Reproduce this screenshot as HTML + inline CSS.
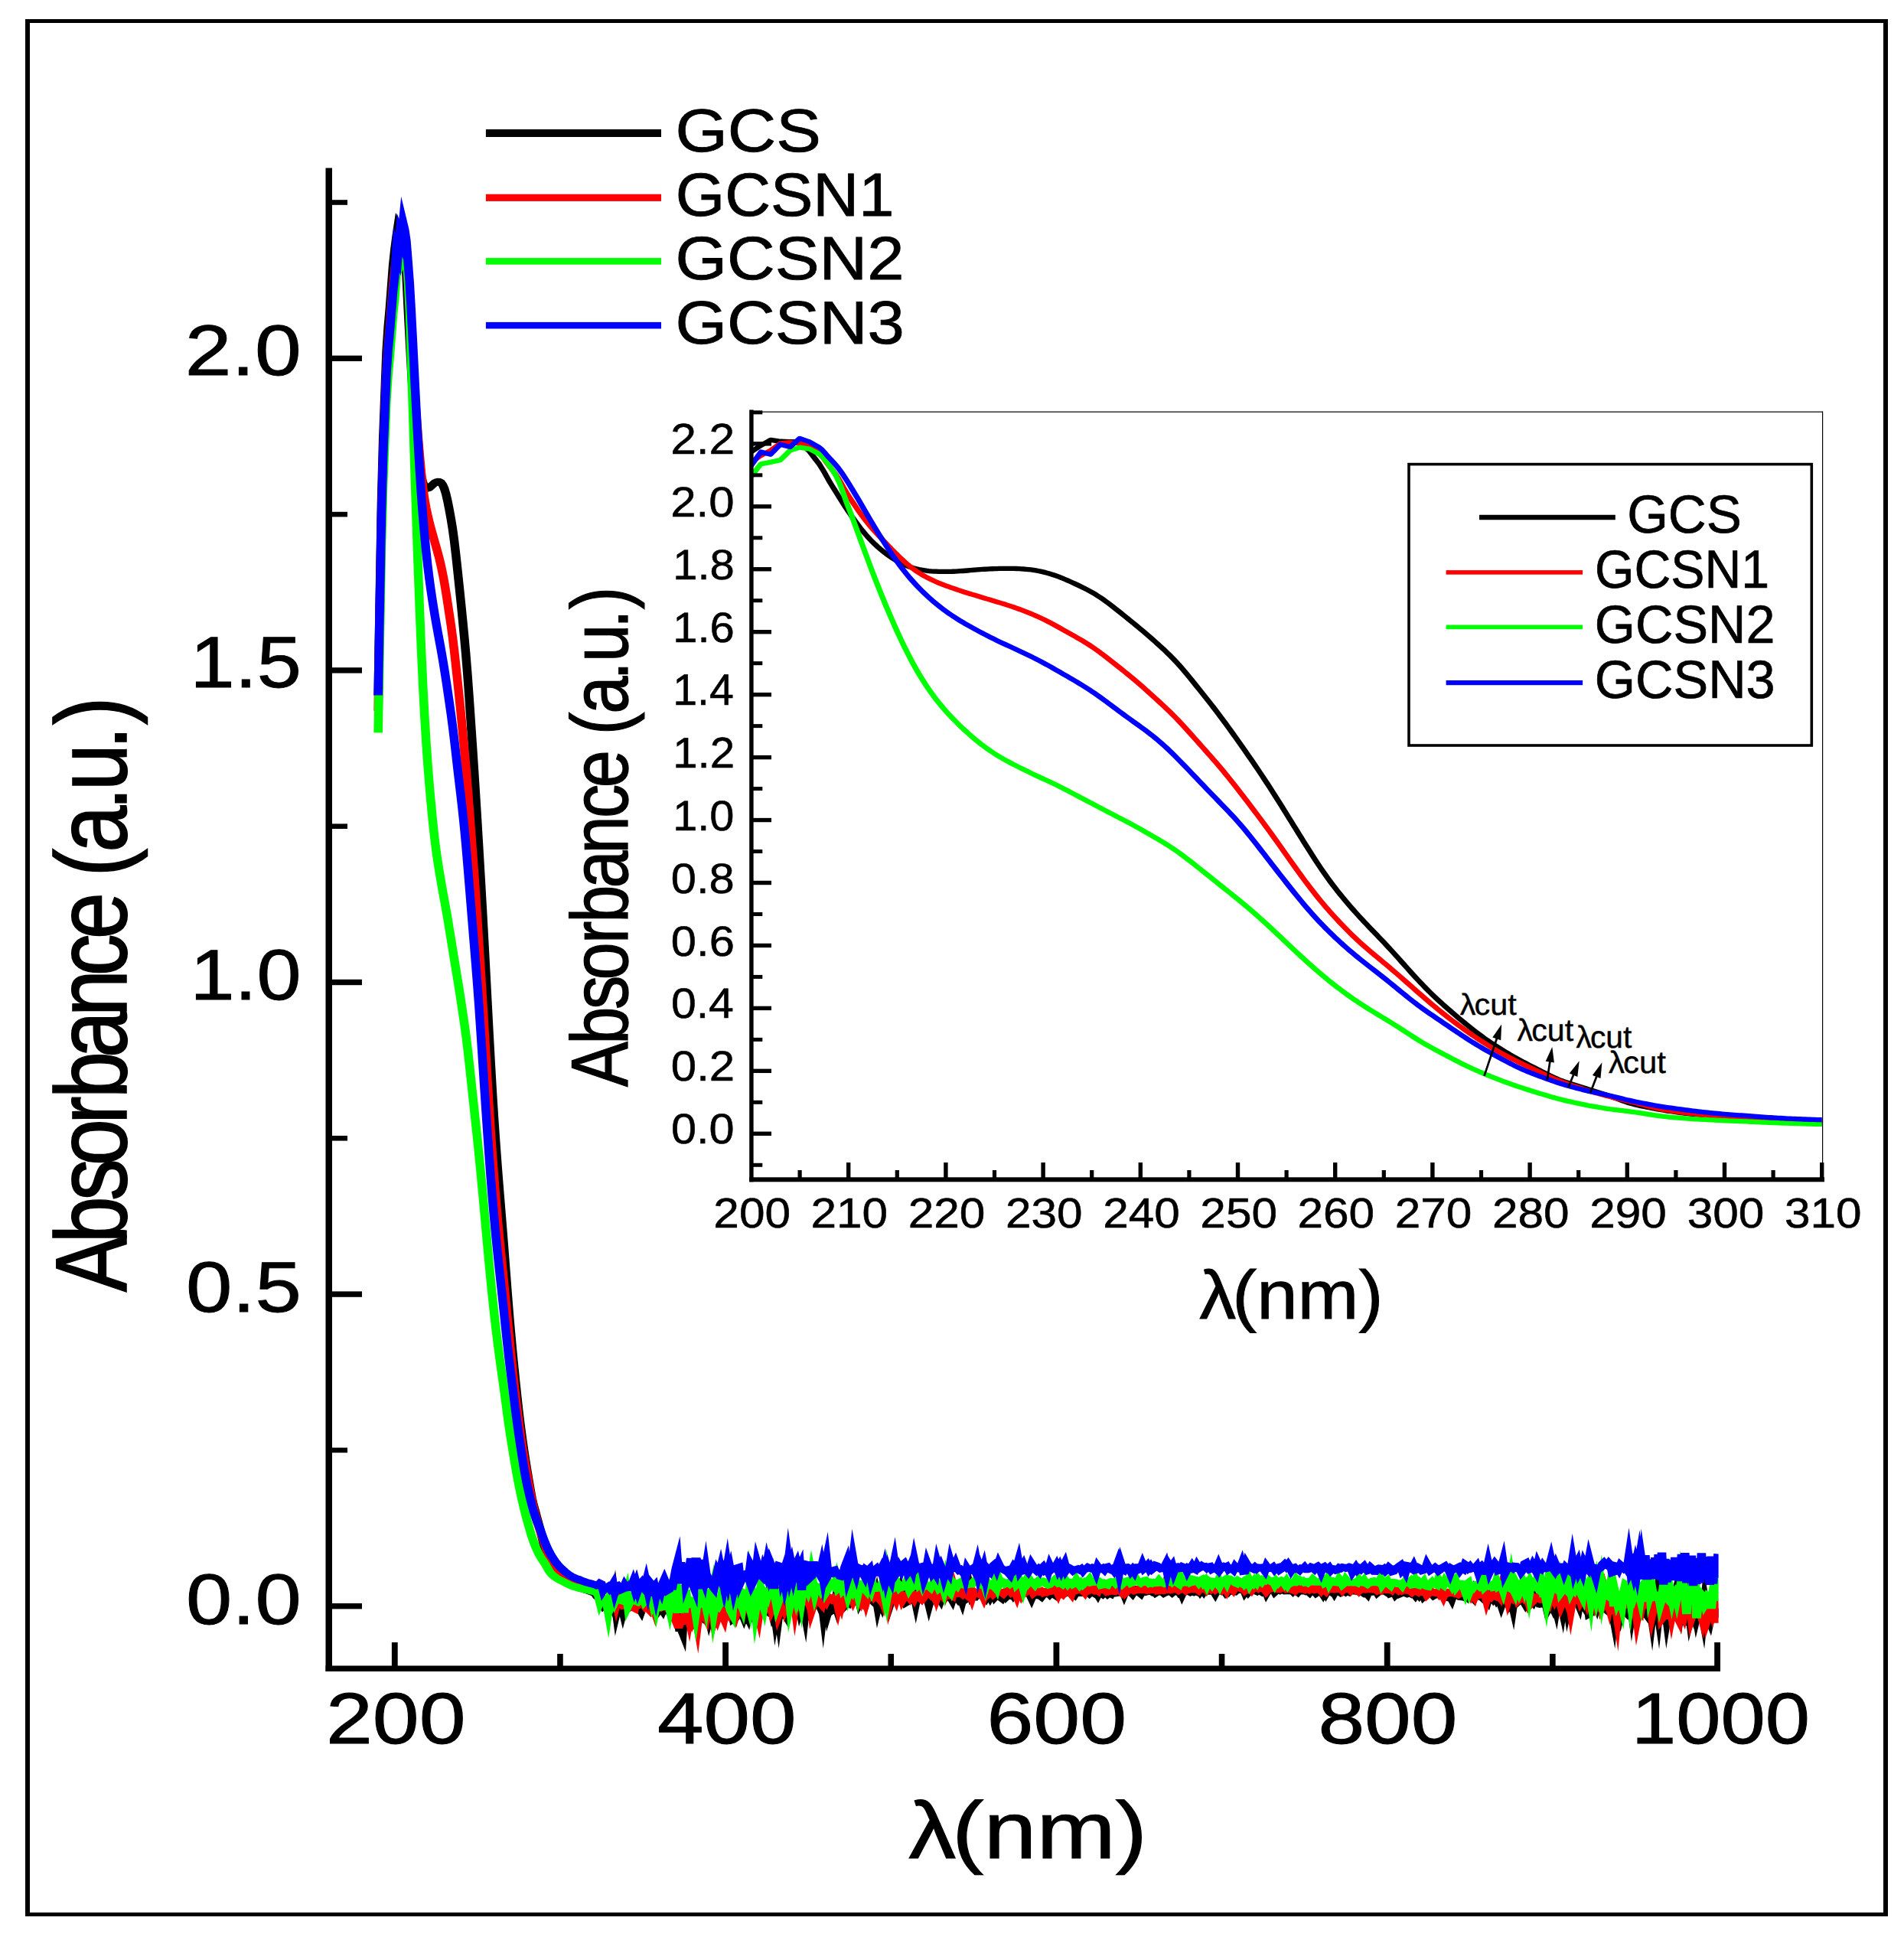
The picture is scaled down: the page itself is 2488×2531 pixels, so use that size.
<!DOCTYPE html>
<html lang="en"><head><meta charset="utf-8"><title>UV-Vis absorbance</title>
<style>html,body{margin:0;padding:0;background:#fff}svg{display:block}</style></head>
<body>
<svg width="2488" height="2531" viewBox="0 0 2488 2531" style="display:block;font-kerning:none" text-rendering="geometricPrecision">
<rect width="2488" height="2531" fill="#fff"/>
<rect x="33.00" y="25.00" width="2434.00" height="5.00" fill="#000"/>
<rect x="33.00" y="2499.00" width="2434.00" height="5.00" fill="#000"/>
<rect x="33.00" y="25.00" width="6.00" height="2479.00" fill="#000"/>
<rect x="2461.00" y="25.00" width="6.00" height="2479.00" fill="#000"/>
<clipPath id="mainclip"><rect x="0" y="0" width="1871.33" height="2531"/></clipPath>
<g id="main-curves" clip-path="url(#mainclip)" fill="none" stroke-linejoin="miter" stroke-miterlimit="14" stroke-linecap="butt" transform="scale(1.200,1)">
<path d="M411.82 908.51 L413.62 778.15 L415.42 655.94 L417.22 574.46 L419.03 517.43 L420.83 460.40 L422.63 427.81 L424.43 403.37 L426.23 374.85 L428.03 346.34 L429.83 326.55 L431.63 309.66 L433.44 295.20 L435.24 299.11 L437.04 299.90 L438.84 300.42 L440.64 325.34 L442.44 358.02 L444.24 401.07 L446.04 442.15 L447.85 481.39 L449.65 517.02 L451.45 547.89 L453.25 573.07 L455.05 593.60 L456.85 610.21 L458.65 622.52 L460.45 630.52 L462.26 635.10 L464.06 637.25 L465.86 637.75 L467.66 637.03 L469.46 635.32 L471.26 633.18 L473.06 631.31 L474.86 630.13 L476.67 629.61 L478.47 629.73 L480.27 630.86 L482.07 633.66 L483.87 638.53 L485.67 645.67 L487.47 655.07 L489.27 666.03 L491.08 677.91 L492.88 691.25 L494.68 707.10 L496.48 725.52 L498.28 745.53 L500.08 765.99 L501.88 786.83 L503.68 808.50 L505.49 830.99 L507.29 854.89 L509.09 881.58 L510.89 911.37 L512.69 942.81 L514.49 974.58 L516.29 1007.22 L518.09 1041.46 L519.90 1076.84 L521.70 1112.83 L523.50 1149.65 L525.30 1187.74 L527.10 1227.16 L528.90 1267.56 L530.70 1308.38 L532.50 1349.09 L534.31 1388.79 L536.11 1426.05 L537.91 1460.17 L539.71 1491.56 L541.51 1520.84 L543.31 1548.40 L545.11 1574.90 L546.91 1601.43 L548.72 1628.80 L550.52 1656.98 L552.32 1685.21 L554.12 1712.34 L555.92 1737.62 L557.72 1761.13 L559.52 1783.36 L561.32 1804.72 L563.13 1825.20 L564.93 1844.46 L566.73 1862.22 L568.53 1878.53 L570.33 1893.68 L572.13 1907.90 L573.93 1921.23 L575.73 1934.03 L577.54 1946.76 L579.34 1958.35 L581.14 1967.34 L582.94 1975.03 L584.74 1983.21 L586.54 1990.97 L588.34 1999.20 L590.14 2008.48 L591.95 2017.47 L593.75 2024.52 L595.55 2029.73 L597.35 2034.65 L599.15 2038.97 L600.95 2042.77 L602.75 2046.06 L604.55 2048.92 L606.36 2051.40 L608.16 2053.57 L609.96 2055.52 L611.76 2057.33 L613.56 2059.04 L615.36 2061.15 L617.16 2063.20 L618.96 2065.22 L620.77 2067.18 L622.57 2069.06 L624.37 2070.84 L626.17 2072.42 L627.97 2073.67 L629.77 2074.31 L631.57 2074.95" stroke="#000000" stroke-width="9.6" stroke-miterlimit="14"/>
<path d="M629.77 2074.31 L631.57 2074.95 L633.37 2075.59 L635.18 2076.23 L636.98 2076.87 L638.78 2077.50 L640.58 2078.32 L642.38 2079.14 L644.18 2079.95 L645.98 2080.77 L647.78 2081.58 L649.59 2085.29 L651.39 2087.19 L653.19 2085.92 L654.99 2094.40 L656.79 2097.92 L658.59 2095.81 L660.39 2092.62 L662.19 2094.02 L664.00 2097.26 L665.80 2097.50 L667.60 2101.73 L669.40 2089.26 L671.20 2105.73 L673.00 2096.49 L674.80 2097.21 L676.60 2095.97 L678.41 2105.10 L680.21 2096.92 L682.01 2096.92 L683.81 2101.53 L685.61 2099.95 L687.41 2099.03 L689.21 2097.01 L691.01 2097.04 L692.82 2098.78 L694.62 2100.01 L696.42 2101.35 L698.22 2105.02 L700.02 2098.99 L701.82 2099.05 L703.62 2100.64 L705.42 2100.63 L707.23 2101.40 L709.03 2096.93 L710.83 2102.22 L712.63 2102.19 L714.43 2102.42 L716.23 2105.54 L718.03 2102.58 L719.83 2100.96 L721.64 2104.19 L723.44 2099.25 L725.24 2098.20 L727.04 2101.70 L728.84 2105.38 L730.64 2102.21 L732.44 2101.26 L734.24 2110.70 L736.05 2109.52 L737.85 2113.08 L739.65 2127.23 L741.45 2127.23 L743.25 2132.73 L745.05 2099.42 L746.85 2114.89 L748.65 2116.45 L750.46 2108.73 L752.26 2106.50 L754.06 2121.12 L755.86 2122.67 L757.66 2105.20 L759.46 2102.40 L761.26 2105.50 L763.06 2113.85 L764.87 2114.80 L766.67 2115.96 L768.47 2108.73 L770.27 2106.30 L772.07 2115.18 L773.87 2107.27 L775.67 2095.71 L777.47 2104.29 L779.28 2117.26 L781.08 2115.06 L782.88 2104.02 L784.68 2095.94 L786.48 2106.10 L788.28 2110.71 L790.08 2112.24 L791.88 2110.20 L793.69 2107.01 L795.49 2101.53 L797.29 2090.75 L799.09 2115.01 L800.89 2113.60 L802.69 2108.60 L804.49 2099.67 L806.29 2098.59 L808.10 2107.39 L809.90 2112.60 L811.70 2106.43 L813.50 2110.86 L815.30 2095.56 L817.10 2102.47 L818.90 2102.02 L820.70 2114.50 L822.51 2116.72 L824.31 2087.13 L826.11 2101.17 L827.91 2108.33 L829.71 2106.49 L831.51 2100.86 L833.31 2097.57 L835.11 2105.06 L836.92 2106.51 L838.72 2093.49 L840.52 2103.13 L842.32 2095.23 L844.12 2111.35 L845.92 2097.99 L847.72 2112.43 L849.52 2095.96 L851.33 2102.09 L853.13 2105.28 L854.93 2108.91 L856.73 2078.74 L858.53 2097.48 L860.33 2102.82 L862.13 2099.45 L863.93 2091.65 L865.74 2094.84 L867.54 2088.00 L869.34 2090.10 L871.14 2101.62 L872.94 2094.61 L874.74 2095.92 L876.54 2107.52 L878.34 2088.14 L880.15 2093.75 L881.95 2101.63 L883.75 2095.28 L885.55 2087.84 L887.35 2092.34 L889.15 2092.26 L890.95 2092.92 L892.75 2097.88 L894.56 2088.63 L896.36 2106.19 L898.16 2088.13 L899.96 2089.84 L901.76 2105.23 L903.56 2097.98 L905.36 2104.59 L907.16 2103.00 L908.97 2094.01 L910.77 2100.46 L912.57 2090.55 L914.37 2088.05 L916.17 2091.62 L917.97 2089.75 L919.77 2098.38 L921.57 2096.20 L923.38 2091.96 L925.18 2094.02 L926.98 2090.94 L928.78 2090.29 L930.58 2089.21 L932.38 2084.16 L934.18 2084.54 L935.98 2093.31 L937.79 2088.91 L939.59 2087.89 L941.39 2089.48 L943.19 2091.73 L944.99 2089.64 L946.79 2087.40 L948.59 2090.47 L950.39 2091.66 L952.20 2093.74 L954.00 2085.91 L955.80 2098.86 L957.60 2089.90 L959.40 2094.96 L961.20 2083.71 L963.00 2090.32 L964.80 2090.32 L966.61 2089.80 L968.41 2098.49 L970.21 2091.93 L972.01 2089.29 L973.81 2086.86 L975.61 2082.86 L977.41 2089.42 L979.21 2087.80 L981.02 2079.40 L982.82 2087.17 L984.62 2087.83 L986.42 2093.91 L988.22 2092.60 L990.02 2087.90 L991.82 2087.33 L993.62 2089.45 L995.43 2083.23 L997.23 2093.49 L999.03 2083.01 L1000.83 2088.93 L1002.63 2086.54 L1004.43 2083.30 L1006.23 2089.68 L1008.03 2089.86 L1009.84 2087.53 L1011.64 2096.25 L1013.44 2088.46 L1015.24 2085.71 L1017.04 2088.20 L1018.84 2086.92 L1020.64 2085.26 L1022.44 2086.83 L1024.25 2090.33 L1026.05 2084.18 L1027.85 2083.13 L1029.65 2086.87 L1031.45 2084.59 L1033.25 2084.17 L1035.05 2086.37 L1036.85 2090.14 L1038.66 2083.42 L1040.46 2084.70 L1042.26 2087.50 L1044.06 2082.28 L1045.86 2086.30 L1047.66 2092.10 L1049.46 2083.88 L1051.26 2085.21 L1053.07 2088.67 L1054.87 2087.29 L1056.67 2078.33 L1058.47 2087.62 L1060.27 2085.89 L1062.07 2086.27 L1063.87 2083.29 L1065.67 2084.14 L1067.48 2083.09 L1069.28 2084.44 L1071.08 2086.43 L1072.88 2081.73 L1074.68 2086.22 L1076.48 2082.70 L1078.28 2086.75 L1080.08 2082.92 L1081.89 2080.68 L1083.69 2086.44 L1085.49 2084.14 L1087.29 2083.27 L1089.09 2086.84 L1090.89 2088.39 L1092.69 2084.33 L1094.49 2081.41 L1096.30 2085.96 L1098.10 2083.93 L1099.90 2084.67 L1101.70 2081.18 L1103.50 2084.49 L1105.30 2081.60 L1107.10 2081.99 L1108.90 2083.76 L1110.71 2080.58 L1112.51 2082.06 L1114.31 2081.45 L1116.11 2080.82 L1117.91 2079.65 L1119.71 2081.64 L1121.51 2083.20 L1123.31 2087.81 L1125.12 2082.76 L1126.92 2084.01 L1128.72 2084.36 L1130.52 2084.63 L1132.32 2084.69 L1134.12 2086.38 L1135.92 2083.64 L1137.72 2082.81 L1139.53 2082.22 L1141.33 2081.29 L1143.13 2083.43 L1144.93 2081.24 L1146.73 2081.31 L1148.53 2083.97 L1150.33 2085.36 L1152.13 2080.48 L1153.94 2083.54 L1155.74 2082.19 L1157.54 2080.96 L1159.34 2081.86 L1161.14 2080.42 L1162.94 2079.31 L1164.74 2080.97 L1166.54 2080.82 L1168.35 2082.00 L1170.15 2083.75 L1171.95 2080.40 L1173.75 2078.55 L1175.55 2081.25 L1177.35 2081.30 L1179.15 2080.81 L1180.95 2079.68 L1182.76 2081.23 L1184.56 2080.25 L1186.36 2082.15 L1188.16 2080.25 L1189.96 2080.44 L1191.76 2081.78 L1193.56 2079.95 L1195.36 2083.38 L1197.17 2079.07 L1198.97 2081.50 L1200.77 2082.99 L1202.57 2080.86 L1204.37 2080.90 L1206.17 2083.09 L1207.97 2081.40 L1209.77 2082.51 L1211.58 2078.08 L1213.38 2081.79 L1215.18 2081.54 L1216.98 2081.19 L1218.78 2080.64 L1220.58 2080.94 L1222.38 2077.29 L1224.18 2082.65 L1225.99 2077.41 L1227.79 2079.97 L1229.59 2080.22 L1231.39 2080.31 L1233.19 2082.53 L1234.99 2079.27 L1236.79 2077.71 L1238.59 2079.17 L1240.40 2080.55 L1242.20 2082.34 L1244.00 2078.45 L1245.80 2079.24 L1247.60 2080.13 L1249.40 2079.43 L1251.20 2077.32 L1253.00 2079.06 L1254.81 2080.26 L1256.61 2079.02 L1258.41 2081.51 L1260.21 2080.22 L1262.01 2079.94 L1263.81 2079.23 L1265.61 2080.01 L1267.41 2081.87 L1269.22 2080.69 L1271.02 2079.70 L1272.82 2078.79 L1274.62 2079.43 L1276.42 2081.22 L1278.22 2079.45 L1280.02 2079.54 L1281.82 2077.00 L1283.63 2079.91 L1285.43 2077.43 L1287.23 2082.78 L1289.03 2078.16 L1290.83 2077.75 L1292.63 2076.82 L1294.43 2079.28 L1296.23 2080.39 L1298.04 2079.36 L1299.84 2080.22 L1301.64 2078.96 L1303.44 2079.87 L1305.24 2075.99 L1307.04 2079.50 L1308.84 2076.63 L1310.64 2079.43 L1312.45 2075.98 L1314.25 2078.03 L1316.05 2078.97 L1317.85 2078.83 L1319.65 2076.89 L1321.45 2078.55 L1323.25 2082.06 L1325.05 2077.97 L1326.86 2078.41 L1328.66 2076.89 L1330.46 2078.49 L1332.26 2077.17 L1334.06 2080.08 L1335.86 2077.06 L1337.66 2079.38 L1339.46 2076.67 L1341.27 2078.98 L1343.07 2079.39 L1344.87 2079.66 L1346.67 2077.68 L1348.47 2077.32 L1350.27 2075.64 L1352.07 2074.88 L1353.87 2074.89 L1355.68 2080.27 L1357.48 2077.22 L1359.28 2080.27 L1361.08 2077.71 L1362.88 2077.85 L1364.68 2077.67 L1366.48 2078.15 L1368.28 2079.10 L1370.09 2076.70 L1371.89 2078.48 L1373.69 2079.73 L1375.49 2077.11 L1377.29 2075.97 L1379.09 2081.16 L1380.89 2077.44 L1382.69 2077.75 L1384.50 2077.96 L1386.30 2076.42 L1388.10 2080.05 L1389.90 2078.11 L1391.70 2077.33 L1393.50 2078.19 L1395.30 2076.78 L1397.10 2077.69 L1398.91 2078.65 L1400.71 2078.46 L1402.51 2078.36 L1404.31 2078.54 L1406.11 2076.99 L1407.91 2079.25 L1409.71 2076.88 L1411.51 2078.52 L1413.32 2080.23 L1415.12 2077.88 L1416.92 2078.52 L1418.72 2078.63 L1420.52 2078.10 L1422.32 2079.36 L1424.12 2078.98 L1425.92 2080.87 L1427.73 2078.06 L1429.53 2078.92 L1431.33 2079.42 L1433.13 2081.73 L1434.93 2080.37 L1436.73 2076.93 L1438.53 2078.85 L1440.33 2082.19 L1442.14 2077.34 L1443.94 2081.51 L1445.74 2077.78 L1447.54 2078.13 L1449.34 2079.61 L1451.14 2077.37 L1452.94 2081.09 L1454.74 2077.34 L1456.55 2078.81 L1458.35 2079.72 L1460.15 2081.25 L1461.95 2080.21 L1463.75 2078.76 L1465.55 2080.38 L1467.35 2079.00 L1469.15 2080.04 L1470.96 2078.04 L1472.76 2077.32 L1474.56 2078.75 L1476.36 2078.95 L1478.16 2079.12 L1479.96 2080.13 L1481.76 2079.06 L1483.56 2080.58 L1485.37 2081.90 L1487.17 2080.55 L1488.97 2082.88 L1490.77 2077.91 L1492.57 2080.18 L1494.37 2080.09 L1496.17 2079.58 L1497.97 2077.80 L1499.78 2081.20 L1501.58 2079.37 L1503.38 2077.15 L1505.18 2078.64 L1506.98 2078.86 L1508.78 2079.45 L1510.58 2080.83 L1512.38 2076.96 L1514.19 2082.10 L1515.99 2081.37 L1517.79 2079.63 L1519.59 2083.64 L1521.39 2081.41 L1523.19 2083.17 L1524.99 2082.27 L1526.79 2077.88 L1528.60 2080.48 L1530.40 2081.60 L1532.20 2082.40 L1534.00 2081.55 L1535.80 2081.39 L1537.60 2082.80 L1539.40 2081.97 L1541.20 2084.64 L1543.01 2081.45 L1544.81 2083.91 L1546.61 2080.12 L1548.41 2081.57 L1550.21 2086.16 L1552.01 2084.16 L1553.81 2081.58 L1555.61 2081.59 L1557.42 2082.33 L1559.22 2082.56 L1561.02 2084.91 L1562.82 2083.57 L1564.62 2083.78 L1566.42 2083.56 L1568.22 2082.56 L1570.02 2082.32 L1571.83 2084.92 L1573.63 2083.65 L1575.43 2086.85 L1577.23 2087.52 L1579.03 2085.13 L1580.83 2089.15 L1582.63 2083.11 L1584.43 2084.17 L1586.24 2082.35 L1588.04 2083.70 L1589.84 2086.19 L1591.64 2086.46 L1593.44 2086.63 L1595.24 2087.49 L1597.04 2085.52 L1598.84 2087.74 L1600.65 2085.92 L1602.45 2085.88 L1604.25 2088.11 L1606.05 2080.42 L1607.85 2084.77 L1609.65 2084.52 L1611.45 2085.99 L1613.25 2086.38 L1615.06 2088.48 L1616.86 2087.11 L1618.66 2085.46 L1620.46 2089.63 L1622.26 2082.53 L1624.06 2085.70 L1625.86 2088.71 L1627.66 2085.36 L1629.47 2089.42 L1631.27 2085.80 L1633.07 2090.82 L1634.87 2097.25 L1636.67 2091.36 L1638.47 2083.35 L1640.27 2090.58 L1642.07 2094.37 L1643.88 2088.29 L1645.68 2089.24 L1647.48 2098.76 L1649.28 2084.03 L1651.08 2094.60 L1652.88 2092.68 L1654.68 2089.89 L1656.48 2086.76 L1658.29 2091.35 L1660.09 2094.15 L1661.89 2097.77 L1663.69 2095.40 L1665.49 2090.50 L1667.29 2091.16 L1669.09 2093.40 L1670.89 2088.39 L1672.70 2092.10 L1674.50 2094.10 L1676.30 2092.70 L1678.10 2095.78 L1679.90 2095.54 L1681.70 2086.23 L1683.50 2095.62 L1685.30 2089.71 L1687.11 2099.13 L1688.91 2095.24 L1690.71 2099.70 L1692.51 2092.36 L1694.31 2100.91 L1696.11 2087.17 L1697.91 2094.62 L1699.71 2093.67 L1701.52 2103.52 L1703.32 2089.67 L1705.12 2087.10 L1706.92 2101.17 L1708.72 2091.25 L1710.52 2095.99 L1712.32 2088.63 L1714.12 2087.36 L1715.93 2090.83 L1717.73 2091.63 L1719.53 2096.82 L1721.33 2085.18 L1723.13 2094.75 L1724.93 2098.24 L1726.73 2093.03 L1728.53 2094.16 L1730.34 2108.94 L1732.14 2107.79 L1733.94 2093.30 L1735.74 2091.72 L1737.54 2091.06 L1739.34 2097.73 L1741.14 2091.06 L1742.94 2090.25 L1744.75 2093.00 L1746.55 2093.24 L1748.35 2094.72 L1750.15 2103.92 L1751.95 2105.80 L1753.75 2100.19 L1755.55 2103.13 L1757.35 2114.80 L1759.16 2095.06 L1760.96 2101.41 L1762.76 2098.53 L1764.56 2107.38 L1766.36 2097.98 L1768.16 2103.49 L1769.96 2105.74 L1771.76 2095.62 L1773.57 2099.81 L1775.37 2086.38 L1777.17 2104.03 L1778.97 2090.40 L1780.77 2098.64 L1782.57 2110.35 L1784.37 2098.61 L1786.17 2107.61 L1787.98 2103.50 L1789.78 2099.45 L1791.58 2106.91 L1793.38 2109.85 L1795.18 2104.00 L1796.98 2098.30 L1798.78 2113.11 L1800.58 2094.63 L1802.39 2115.08 L1804.19 2095.73 L1805.99 2110.15 L1807.79 2090.47 L1809.59 2105.01 L1811.39 2103.78 L1813.19 2097.73 L1814.99 2114.58 L1816.80 2101.39 L1818.60 2106.16 L1820.40 2095.99 L1822.20 2093.13 L1824.00 2085.11 L1825.80 2103.35 L1827.60 2100.98 L1829.40 2108.70 L1831.21 2094.45 L1833.01 2102.09 L1834.81 2112.66 L1836.61 2115.71 L1838.41 2097.50 L1840.21 2113.93 L1842.01 2104.97 L1843.81 2110.45 L1845.62 2097.93 L1847.42 2111.33 L1849.22 2102.37 L1851.02 2095.61 L1852.82 2102.18 L1854.62 2113.97 L1856.42 2093.09 L1858.22 2106.31 L1860.03 2112.97 L1861.83 2118.26 L1863.63 2107.97 L1865.43 2113.47 L1867.23 2111.22 L1869.03 2109.31 L1870.83 2101.24" stroke="#000000" stroke-width="9.6" stroke-miterlimit="10"/>
<path d="M411.82 928.89 L413.62 800.11 L415.42 679.38 L417.22 598.89 L419.03 542.55 L420.83 486.21 L422.63 454.01 L424.43 429.87 L426.23 401.70 L428.03 373.53 L429.83 353.98 L431.63 335.78 L433.44 322.74 L435.24 304.39 L437.04 301.73 L438.84 304.30 L440.64 312.05 L442.44 330.40 L444.24 362.38 L446.04 396.82 L447.85 440.17 L449.65 478.29 L451.45 511.92 L453.25 540.97 L455.05 567.97 L456.85 593.83 L458.65 617.23 L460.45 636.71 L462.26 652.04 L464.06 664.07 L465.86 674.15 L467.66 683.16 L469.46 691.41 L471.26 699.18 L473.06 706.76 L474.86 714.32 L476.67 722.05 L478.47 730.29 L480.27 739.46 L482.07 749.75 L483.87 761.24 L485.67 774.11 L487.47 788.09 L489.27 802.31 L491.08 816.75 L492.88 832.69 L494.68 850.75 L496.48 870.26 L498.28 890.33 L500.08 910.80 L501.88 932.30 L503.68 954.91 L505.49 977.93 L507.29 1001.78 L509.09 1027.51 L510.89 1055.08 L512.69 1083.48 L514.49 1111.97 L516.29 1141.00 L518.09 1171.47 L519.90 1203.47 L521.70 1236.34 L523.50 1269.73 L525.30 1303.86 L527.10 1338.91 L528.90 1374.58 L530.70 1410.15 L532.50 1444.76 L534.31 1477.61 L536.11 1508.26 L537.91 1536.79 L539.71 1563.54 L541.51 1588.58 L543.31 1611.72 L545.11 1633.29 L546.91 1654.30 L548.72 1675.62 L550.52 1697.54 L552.32 1719.85 L554.12 1742.09 L555.92 1763.74 L557.72 1784.45 L559.52 1804.13 L561.32 1822.90 L563.13 1840.85 L564.93 1857.88 L566.73 1873.78 L568.53 1888.47 L570.33 1901.99 L572.13 1914.55 L573.93 1926.57 L575.73 1938.47 L577.54 1950.26 L579.34 1961.09 L581.14 1970.36 L582.94 1978.75 L584.74 1986.97 L586.54 1994.20 L588.34 2001.11 L590.14 2007.47 L591.95 2013.36 L593.75 2019.71 L595.55 2026.30 L597.35 2032.57 L599.15 2037.43 L600.95 2041.31 L602.75 2044.59 L604.55 2047.42 L606.36 2049.87 L608.16 2051.97 L609.96 2053.78 L611.76 2055.38 L613.56 2056.80 L615.36 2058.54 L617.16 2060.18 L618.96 2061.73 L620.77 2063.18 L622.57 2064.52 L624.37 2065.72 L626.17 2066.76 L627.97 2067.60 L629.77 2068.70 L631.57 2069.81" stroke="#ff0000" stroke-width="9.6" stroke-miterlimit="14"/>
<path d="M629.77 2068.70 L631.57 2069.81 L633.37 2070.92 L635.18 2072.03 L636.98 2073.14 L638.78 2074.24 L640.58 2075.06 L642.38 2075.87 L644.18 2076.69 L645.98 2077.50 L647.78 2078.32 L649.59 2080.09 L651.39 2083.56 L653.19 2086.56 L654.99 2089.54 L656.79 2092.44 L658.59 2091.88 L660.39 2092.68 L662.19 2096.79 L664.00 2093.22 L665.80 2094.18 L667.60 2093.89 L669.40 2085.32 L671.20 2094.91 L673.00 2086.54 L674.80 2087.97 L676.60 2095.32 L678.41 2098.01 L680.21 2097.62 L682.01 2097.71 L683.81 2096.40 L685.61 2092.82 L687.41 2094.63 L689.21 2100.32 L691.01 2101.43 L692.82 2089.66 L694.62 2097.60 L696.42 2096.26 L698.22 2092.01 L700.02 2095.48 L701.82 2098.25 L703.62 2095.13 L705.42 2101.19 L707.23 2103.47 L709.03 2098.03 L710.83 2097.49 L712.63 2103.77 L714.43 2093.43 L716.23 2100.49 L718.03 2098.99 L719.83 2100.43 L721.64 2099.10 L723.44 2098.06 L725.24 2099.63 L727.04 2101.17 L728.84 2103.36 L730.64 2099.82 L732.44 2105.26 L734.24 2100.54 L736.05 2118.01 L737.85 2123.16 L739.65 2123.16 L741.45 2117.30 L743.25 2117.55 L745.05 2111.05 L746.85 2106.00 L748.65 2103.51 L750.46 2114.09 L752.26 2101.05 L754.06 2099.39 L755.86 2114.01 L757.66 2109.55 L759.46 2121.93 L761.26 2104.63 L763.06 2104.75 L764.87 2107.86 L766.67 2109.91 L768.47 2113.82 L770.27 2100.49 L772.07 2096.93 L773.87 2104.51 L775.67 2101.23 L777.47 2116.26 L779.28 2109.15 L781.08 2114.58 L782.88 2108.21 L784.68 2102.53 L786.48 2109.38 L788.28 2114.38 L790.08 2103.09 L791.88 2106.16 L793.69 2091.19 L795.49 2116.13 L797.29 2097.02 L799.09 2105.96 L800.89 2110.84 L802.69 2103.85 L804.49 2105.31 L806.29 2102.76 L808.10 2105.89 L809.90 2094.43 L811.70 2094.03 L813.50 2098.88 L815.30 2102.12 L817.10 2085.17 L818.90 2109.81 L820.70 2112.34 L822.51 2103.49 L824.31 2101.57 L826.11 2110.72 L827.91 2096.30 L829.71 2092.10 L831.51 2099.67 L833.31 2102.69 L835.11 2099.19 L836.92 2095.13 L838.72 2089.95 L840.52 2101.65 L842.32 2096.75 L844.12 2093.48 L845.92 2095.39 L847.72 2109.19 L849.52 2103.47 L851.33 2094.55 L853.13 2087.04 L854.93 2097.67 L856.73 2090.87 L858.53 2080.56 L860.33 2092.24 L862.13 2093.71 L863.93 2083.16 L865.74 2099.20 L867.54 2086.02 L869.34 2087.69 L871.14 2081.27 L872.94 2087.77 L874.74 2092.61 L876.54 2093.00 L878.34 2085.85 L880.15 2091.81 L881.95 2087.13 L883.75 2103.59 L885.55 2097.08 L887.35 2089.31 L889.15 2090.80 L890.95 2093.57 L892.75 2093.85 L894.56 2096.16 L896.36 2085.34 L898.16 2088.08 L899.96 2091.86 L901.76 2087.48 L903.56 2088.50 L905.36 2089.95 L907.16 2087.58 L908.97 2086.79 L910.77 2087.79 L912.57 2097.73 L914.37 2087.80 L916.17 2094.89 L917.97 2085.71 L919.77 2092.29 L921.57 2087.90 L923.38 2083.72 L925.18 2086.19 L926.98 2086.75 L928.78 2091.56 L930.58 2086.68 L932.38 2081.84 L934.18 2089.61 L935.98 2092.71 L937.79 2084.42 L939.59 2089.36 L941.39 2083.55 L943.19 2092.06 L944.99 2084.60 L946.79 2088.15 L948.59 2087.32 L950.39 2081.55 L952.20 2085.96 L954.00 2083.66 L955.80 2086.37 L957.60 2089.01 L959.40 2084.72 L961.20 2090.90 L963.00 2080.08 L964.80 2075.45 L966.61 2075.43 L968.41 2092.84 L970.21 2084.45 L972.01 2085.82 L973.81 2084.31 L975.61 2089.12 L977.41 2081.61 L979.21 2081.41 L981.02 2082.85 L982.82 2090.39 L984.62 2086.98 L986.42 2084.65 L988.22 2083.80 L990.02 2086.69 L991.82 2081.02 L993.62 2084.69 L995.43 2088.36 L997.23 2083.61 L999.03 2083.07 L1000.83 2087.12 L1002.63 2088.97 L1004.43 2083.87 L1006.23 2086.57 L1008.03 2083.62 L1009.84 2082.70 L1011.64 2080.84 L1013.44 2083.19 L1015.24 2080.01 L1017.04 2084.47 L1018.84 2076.11 L1020.64 2086.03 L1022.44 2080.33 L1024.25 2077.53 L1026.05 2084.23 L1027.85 2086.82 L1029.65 2081.13 L1031.45 2081.10 L1033.25 2084.57 L1035.05 2084.13 L1036.85 2085.30 L1038.66 2074.89 L1040.46 2082.32 L1042.26 2082.15 L1044.06 2082.16 L1045.86 2080.82 L1047.66 2082.57 L1049.46 2079.34 L1051.26 2082.55 L1053.07 2084.35 L1054.87 2079.43 L1056.67 2080.13 L1058.47 2086.52 L1060.27 2079.83 L1062.07 2081.71 L1063.87 2081.17 L1065.67 2082.40 L1067.48 2079.90 L1069.28 2082.16 L1071.08 2086.88 L1072.88 2080.52 L1074.68 2075.59 L1076.48 2082.63 L1078.28 2080.99 L1080.08 2079.95 L1081.89 2083.01 L1083.69 2081.22 L1085.49 2079.83 L1087.29 2079.12 L1089.09 2080.56 L1090.89 2080.86 L1092.69 2082.45 L1094.49 2080.17 L1096.30 2078.70 L1098.10 2078.91 L1099.90 2077.79 L1101.70 2080.87 L1103.50 2079.53 L1105.30 2079.78 L1107.10 2084.98 L1108.90 2078.00 L1110.71 2076.86 L1112.51 2082.42 L1114.31 2078.44 L1116.11 2081.11 L1117.91 2079.59 L1119.71 2077.76 L1121.51 2075.71 L1123.31 2078.37 L1125.12 2081.88 L1126.92 2080.14 L1128.72 2077.76 L1130.52 2079.95 L1132.32 2080.17 L1134.12 2079.22 L1135.92 2081.13 L1137.72 2080.03 L1139.53 2080.65 L1141.33 2079.07 L1143.13 2079.38 L1144.93 2078.98 L1146.73 2077.73 L1148.53 2073.41 L1150.33 2077.19 L1152.13 2081.74 L1153.94 2075.98 L1155.74 2081.01 L1157.54 2082.97 L1159.34 2080.13 L1161.14 2077.04 L1162.94 2077.57 L1164.74 2079.92 L1166.54 2082.64 L1168.35 2076.04 L1170.15 2077.12 L1171.95 2078.19 L1173.75 2077.23 L1175.55 2076.83 L1177.35 2077.86 L1179.15 2077.88 L1180.95 2080.34 L1182.76 2075.46 L1184.56 2078.89 L1186.36 2077.82 L1188.16 2074.28 L1189.96 2077.67 L1191.76 2078.56 L1193.56 2077.36 L1195.36 2078.72 L1197.17 2073.53 L1198.97 2076.30 L1200.77 2077.13 L1202.57 2077.16 L1204.37 2079.14 L1206.17 2077.36 L1207.97 2079.47 L1209.77 2078.88 L1211.58 2078.65 L1213.38 2079.11 L1215.18 2075.80 L1216.98 2077.91 L1218.78 2077.02 L1220.58 2079.34 L1222.38 2074.71 L1224.18 2075.02 L1225.99 2080.76 L1227.79 2078.76 L1229.59 2077.00 L1231.39 2076.13 L1233.19 2076.60 L1234.99 2078.39 L1236.79 2077.70 L1238.59 2077.35 L1240.40 2076.00 L1242.20 2077.19 L1244.00 2077.31 L1245.80 2076.21 L1247.60 2076.37 L1249.40 2078.13 L1251.20 2077.80 L1253.00 2077.45 L1254.81 2076.56 L1256.61 2077.25 L1258.41 2075.27 L1260.21 2078.60 L1262.01 2078.40 L1263.81 2078.21 L1265.61 2077.48 L1267.41 2072.96 L1269.22 2077.57 L1271.02 2076.94 L1272.82 2076.49 L1274.62 2077.47 L1276.42 2076.88 L1278.22 2076.35 L1280.02 2075.91 L1281.82 2076.36 L1283.63 2078.00 L1285.43 2076.99 L1287.23 2075.81 L1289.03 2075.53 L1290.83 2077.44 L1292.63 2074.63 L1294.43 2077.06 L1296.23 2076.29 L1298.04 2076.01 L1299.84 2076.45 L1301.64 2075.95 L1303.44 2076.65 L1305.24 2078.17 L1307.04 2075.67 L1308.84 2075.36 L1310.64 2076.08 L1312.45 2074.56 L1314.25 2077.54 L1316.05 2075.19 L1317.85 2074.31 L1319.65 2076.65 L1321.45 2075.45 L1323.25 2077.32 L1325.05 2075.60 L1326.86 2073.35 L1328.66 2077.00 L1330.46 2078.22 L1332.26 2076.83 L1334.06 2074.69 L1335.86 2078.38 L1337.66 2074.33 L1339.46 2075.79 L1341.27 2075.43 L1343.07 2077.86 L1344.87 2074.56 L1346.67 2074.34 L1348.47 2072.23 L1350.27 2074.10 L1352.07 2072.33 L1353.87 2075.56 L1355.68 2078.32 L1357.48 2076.69 L1359.28 2073.36 L1361.08 2075.49 L1362.88 2077.87 L1364.68 2075.13 L1366.48 2074.33 L1368.28 2074.35 L1370.09 2075.57 L1371.89 2073.91 L1373.69 2074.94 L1375.49 2073.47 L1377.29 2076.62 L1379.09 2071.61 L1380.89 2076.59 L1382.69 2073.97 L1384.50 2075.67 L1386.30 2075.09 L1388.10 2074.91 L1389.90 2076.10 L1391.70 2076.24 L1393.50 2076.51 L1395.30 2074.79 L1397.10 2074.93 L1398.91 2074.78 L1400.71 2076.46 L1402.51 2076.06 L1404.31 2074.16 L1406.11 2076.99 L1407.91 2077.68 L1409.71 2073.19 L1411.51 2077.12 L1413.32 2075.28 L1415.12 2074.45 L1416.92 2076.16 L1418.72 2076.22 L1420.52 2077.06 L1422.32 2075.10 L1424.12 2075.90 L1425.92 2077.31 L1427.73 2075.98 L1429.53 2076.02 L1431.33 2077.20 L1433.13 2076.68 L1434.93 2074.74 L1436.73 2075.63 L1438.53 2078.21 L1440.33 2075.14 L1442.14 2077.50 L1443.94 2079.35 L1445.74 2076.28 L1447.54 2075.53 L1449.34 2074.93 L1451.14 2076.60 L1452.94 2076.70 L1454.74 2075.96 L1456.55 2076.25 L1458.35 2075.99 L1460.15 2075.03 L1461.95 2077.92 L1463.75 2075.50 L1465.55 2076.05 L1467.35 2075.24 L1469.15 2075.28 L1470.96 2077.68 L1472.76 2075.09 L1474.56 2074.96 L1476.36 2077.04 L1478.16 2074.85 L1479.96 2077.89 L1481.76 2075.10 L1483.56 2076.57 L1485.37 2075.73 L1487.17 2076.73 L1488.97 2076.45 L1490.77 2075.84 L1492.57 2076.60 L1494.37 2076.68 L1496.17 2073.20 L1497.97 2076.61 L1499.78 2078.45 L1501.58 2077.19 L1503.38 2078.20 L1505.18 2075.63 L1506.98 2076.69 L1508.78 2077.19 L1510.58 2076.96 L1512.38 2077.33 L1514.19 2074.88 L1515.99 2077.03 L1517.79 2073.96 L1519.59 2075.66 L1521.39 2076.40 L1523.19 2078.29 L1524.99 2076.72 L1526.79 2078.41 L1528.60 2077.24 L1530.40 2077.65 L1532.20 2076.02 L1534.00 2078.30 L1535.80 2078.63 L1537.60 2080.55 L1539.40 2078.62 L1541.20 2078.57 L1543.01 2079.73 L1544.81 2074.53 L1546.61 2080.12 L1548.41 2080.26 L1550.21 2080.26 L1552.01 2079.91 L1553.81 2083.96 L1555.61 2081.94 L1557.42 2078.38 L1559.22 2080.58 L1561.02 2080.67 L1562.82 2081.19 L1564.62 2080.87 L1566.42 2079.63 L1568.22 2083.14 L1570.02 2081.36 L1571.83 2085.88 L1573.63 2080.93 L1575.43 2082.18 L1577.23 2080.90 L1579.03 2081.38 L1580.83 2081.38 L1582.63 2081.79 L1584.43 2079.14 L1586.24 2082.13 L1588.04 2083.39 L1589.84 2082.18 L1591.64 2078.77 L1593.44 2081.21 L1595.24 2082.32 L1597.04 2080.82 L1598.84 2078.82 L1600.65 2079.77 L1602.45 2084.46 L1604.25 2081.22 L1606.05 2085.51 L1607.85 2080.48 L1609.65 2084.22 L1611.45 2084.11 L1613.25 2083.49 L1615.06 2076.44 L1616.86 2081.69 L1618.66 2090.16 L1620.46 2082.89 L1622.26 2083.41 L1624.06 2085.77 L1625.86 2083.16 L1627.66 2085.64 L1629.47 2086.46 L1631.27 2084.01 L1633.07 2086.70 L1634.87 2077.32 L1636.67 2082.89 L1638.47 2086.20 L1640.27 2080.95 L1642.07 2089.90 L1643.88 2082.80 L1645.68 2085.15 L1647.48 2087.73 L1649.28 2084.69 L1651.08 2085.39 L1652.88 2091.52 L1654.68 2089.56 L1656.48 2083.97 L1658.29 2086.41 L1660.09 2081.49 L1661.89 2082.95 L1663.69 2088.78 L1665.49 2096.81 L1667.29 2094.21 L1669.09 2092.58 L1670.89 2087.42 L1672.70 2088.37 L1674.50 2087.29 L1676.30 2085.71 L1678.10 2089.99 L1679.90 2090.15 L1681.70 2087.75 L1683.50 2087.73 L1685.30 2086.54 L1687.11 2091.10 L1688.91 2083.31 L1690.71 2086.41 L1692.51 2090.67 L1694.31 2085.76 L1696.11 2090.87 L1697.91 2089.43 L1699.71 2097.43 L1701.52 2091.92 L1703.32 2092.73 L1705.12 2086.84 L1706.92 2092.83 L1708.72 2088.53 L1710.52 2102.11 L1712.32 2089.79 L1714.12 2091.59 L1715.93 2090.53 L1717.73 2091.23 L1719.53 2085.08 L1721.33 2092.48 L1723.13 2088.88 L1724.93 2085.98 L1726.73 2088.22 L1728.53 2094.42 L1730.34 2088.65 L1732.14 2088.80 L1733.94 2091.15 L1735.74 2090.29 L1737.54 2082.56 L1739.34 2098.27 L1741.14 2095.47 L1742.94 2082.45 L1744.75 2099.40 L1746.55 2095.74 L1748.35 2081.71 L1750.15 2089.15 L1751.95 2097.10 L1753.75 2084.52 L1755.55 2089.60 L1757.35 2099.26 L1759.16 2096.93 L1760.96 2111.27 L1762.76 2089.12 L1764.56 2089.34 L1766.36 2096.23 L1768.16 2091.39 L1769.96 2090.40 L1771.76 2096.83 L1773.57 2096.44 L1775.37 2079.16 L1777.17 2097.57 L1778.97 2097.33 L1780.77 2097.30 L1782.57 2114.19 L1784.37 2102.90 L1786.17 2105.44 L1787.98 2091.48 L1789.78 2097.94 L1791.58 2096.04 L1793.38 2096.90 L1795.18 2097.33 L1796.98 2095.87 L1798.78 2109.84 L1800.58 2100.45 L1802.39 2093.41 L1804.19 2093.31 L1805.99 2090.16 L1807.79 2093.90 L1809.59 2114.66 L1811.39 2111.67 L1813.19 2092.46 L1814.99 2096.72 L1816.80 2115.45 L1818.60 2095.42 L1820.40 2109.09 L1822.20 2097.75 L1824.00 2096.54 L1825.80 2110.48 L1827.60 2114.78 L1829.40 2091.51 L1831.21 2107.95 L1833.01 2112.23 L1834.81 2101.74 L1836.61 2103.75 L1838.41 2089.93 L1840.21 2094.20 L1842.01 2113.10 L1843.81 2106.79 L1845.62 2097.07 L1847.42 2102.63 L1849.22 2106.15 L1851.02 2103.95 L1852.82 2111.56 L1854.62 2091.06 L1856.42 2107.69 L1858.22 2118.26 L1860.03 2111.68 L1861.83 2097.57 L1863.63 2097.78 L1865.43 2106.65 L1867.23 2100.22 L1869.03 2120.31 L1870.83 2100.19" stroke="#ff0000" stroke-width="9.6" stroke-miterlimit="10"/>
<path d="M411.82 957.42 L413.62 830.44 L415.42 711.40 L417.22 632.04 L419.03 576.48 L420.83 520.93 L422.63 489.19 L424.43 465.38 L426.23 437.60 L428.03 409.82 L429.83 390.55 L431.63 357.95 L433.44 353.11 L435.24 347.62 L437.04 322.62 L438.84 314.80 L440.64 318.64 L442.44 331.80 L444.24 360.84 L446.04 402.92 L447.85 470.69 L449.65 538.34 L451.45 607.25 L453.25 673.25 L455.05 735.10 L456.85 792.96 L458.65 845.94 L460.45 893.03 L462.26 934.16 L464.06 969.57 L465.86 1000.05 L467.66 1026.87 L469.46 1051.15 L471.26 1073.39 L473.06 1093.33 L474.86 1110.70 L476.67 1125.84 L478.47 1139.43 L480.27 1152.13 L482.07 1164.33 L483.87 1176.17 L485.67 1187.99 L487.47 1200.42 L489.27 1213.59 L491.08 1226.94 L492.88 1240.21 L494.68 1253.56 L496.48 1266.84 L498.28 1279.89 L500.08 1293.10 L501.88 1307.05 L503.68 1321.58 L505.49 1336.30 L507.29 1351.87 L509.09 1369.24 L510.89 1388.29 L512.69 1408.22 L514.49 1428.43 L516.29 1448.68 L518.09 1468.92 L519.90 1489.34 L521.70 1510.32 L523.50 1532.20 L525.30 1555.04 L527.10 1578.57 L528.90 1602.43 L530.70 1626.22 L532.50 1649.54 L534.31 1672.06 L536.11 1693.54 L537.91 1713.86 L539.71 1732.97 L541.51 1750.83 L543.31 1767.51 L545.11 1783.25 L546.91 1798.57 L548.72 1814.10 L550.52 1830.26 L552.32 1846.70 L554.12 1862.34 L555.92 1876.63 L557.72 1890.12 L559.52 1903.42 L561.32 1916.37 L563.13 1928.50 L564.93 1939.73 L566.73 1950.23 L568.53 1960.10 L570.33 1969.35 L572.13 1977.99 L573.93 1986.12 L575.73 1993.97 L577.54 2001.59 L579.34 2008.63 L581.14 2014.77 L582.94 2020.22 L584.74 2025.44 L586.54 2029.89 L588.34 2034.01 L590.14 2037.41 L591.95 2040.39 L593.75 2043.80 L595.55 2047.56 L597.35 2051.55 L599.15 2054.72 L600.95 2057.20 L602.75 2059.17 L604.55 2060.79 L606.36 2062.23 L608.16 2063.57 L609.96 2064.82 L611.76 2065.91 L613.56 2066.84 L615.36 2068.08 L617.16 2069.21 L618.96 2070.25 L620.77 2071.21 L622.57 2072.08 L624.37 2072.86 L626.17 2073.56 L627.97 2074.16 L629.77 2074.72 L631.57 2075.28" stroke="#00ff00" stroke-width="9.6" stroke-miterlimit="14"/>
<path d="M629.77 2074.72 L631.57 2075.28 L633.37 2075.83 L635.18 2076.39 L636.98 2076.95 L638.78 2077.50 L640.58 2077.99 L642.38 2078.48 L644.18 2078.97 L645.98 2079.46 L647.78 2079.95 L649.59 2081.18 L651.39 2084.46 L653.19 2093.08 L654.99 2087.61 L656.79 2088.67 L658.59 2088.82 L660.39 2093.53 L662.19 2105.22 L664.00 2090.24 L665.80 2094.30 L667.60 2087.40 L669.40 2093.20 L671.20 2088.75 L673.00 2089.79 L674.80 2090.64 L676.60 2091.32 L678.41 2086.60 L680.21 2089.32 L682.01 2082.07 L683.81 2098.56 L685.61 2094.03 L687.41 2092.22 L689.21 2087.81 L691.01 2090.95 L692.82 2092.31 L694.62 2093.23 L696.42 2091.17 L698.22 2088.64 L700.02 2086.27 L701.82 2092.39 L703.62 2089.94 L705.42 2086.62 L707.23 2083.61 L709.03 2083.15 L710.83 2093.32 L712.63 2087.66 L714.43 2098.38 L716.23 2087.68 L718.03 2085.95 L719.83 2091.13 L721.64 2099.45 L723.44 2099.07 L725.24 2092.70 L727.04 2089.59 L728.84 2099.41 L730.64 2085.20 L732.44 2091.12 L734.24 2093.46 L736.05 2074.55 L737.85 2107.68 L739.65 2080.79 L741.45 2086.44 L743.25 2071.20 L745.05 2107.11 L746.85 2077.57 L748.65 2096.82 L750.46 2095.15 L752.26 2094.31 L754.06 2092.24 L755.86 2093.59 L757.66 2107.26 L759.46 2092.73 L761.26 2094.66 L763.06 2095.16 L764.87 2082.75 L766.67 2086.31 L768.47 2096.30 L770.27 2081.04 L772.07 2081.63 L773.87 2091.11 L775.67 2080.93 L777.47 2103.59 L779.28 2090.72 L781.08 2094.29 L782.88 2097.39 L784.68 2093.56 L786.48 2080.65 L788.28 2094.20 L790.08 2094.56 L791.88 2096.03 L793.69 2095.97 L795.49 2104.33 L797.29 2108.42 L799.09 2083.77 L800.89 2086.47 L802.69 2091.47 L804.49 2094.32 L806.29 2092.22 L808.10 2098.56 L809.90 2082.09 L811.70 2083.48 L813.50 2085.83 L815.30 2094.30 L817.10 2068.70 L818.90 2080.71 L820.70 2084.30 L822.51 2104.77 L824.31 2091.14 L826.11 2087.90 L827.91 2076.58 L829.71 2091.21 L831.51 2098.45 L833.31 2083.77 L835.11 2086.99 L836.92 2079.16 L838.72 2074.56 L840.52 2065.85 L842.32 2081.89 L844.12 2086.50 L845.92 2098.42 L847.72 2092.44 L849.52 2085.92 L851.33 2078.62 L853.13 2077.29 L854.93 2068.65 L856.73 2077.36 L858.53 2071.07 L860.33 2095.60 L862.13 2085.65 L863.93 2073.96 L865.74 2082.49 L867.54 2067.75 L869.34 2080.97 L871.14 2072.93 L872.94 2087.95 L874.74 2073.45 L876.54 2069.36 L878.34 2072.74 L880.15 2078.20 L881.95 2071.92 L883.75 2058.36 L885.55 2069.69 L887.35 2080.89 L889.15 2072.92 L890.95 2073.86 L892.75 2074.79 L894.56 2079.05 L896.36 2076.27 L898.16 2063.00 L899.96 2079.39 L901.76 2076.04 L903.56 2068.96 L905.36 2072.39 L907.16 2070.66 L908.97 2073.18 L910.77 2065.17 L912.57 2075.22 L914.37 2073.22 L916.17 2067.95 L917.97 2077.27 L919.77 2074.95 L921.57 2074.90 L923.38 2083.72 L925.18 2076.43 L926.98 2079.06 L928.78 2070.91 L930.58 2075.92 L932.38 2072.73 L934.18 2081.98 L935.98 2072.24 L937.79 2069.50 L939.59 2069.18 L941.39 2075.98 L943.19 2078.46 L944.99 2070.92 L946.79 2071.95 L948.59 2077.04 L950.39 2069.90 L952.20 2075.19 L954.00 2075.25 L955.80 2073.21 L957.60 2072.62 L959.40 2074.59 L961.20 2068.49 L963.00 2079.79 L964.80 2065.52 L966.61 2082.60 L968.41 2070.88 L970.21 2071.86 L972.01 2065.97 L973.81 2074.24 L975.61 2072.53 L977.41 2070.25 L979.21 2074.51 L981.02 2072.44 L982.82 2074.07 L984.62 2073.49 L986.42 2068.85 L988.22 2071.67 L990.02 2076.92 L991.82 2073.57 L993.62 2061.66 L995.43 2072.20 L997.23 2070.61 L999.03 2061.74 L1000.83 2069.84 L1002.63 2067.57 L1004.43 2072.41 L1006.23 2067.69 L1008.03 2072.25 L1009.84 2072.08 L1011.64 2072.76 L1013.44 2074.64 L1015.24 2070.74 L1017.04 2067.15 L1018.84 2070.85 L1020.64 2070.61 L1022.44 2075.49 L1024.25 2073.73 L1026.05 2069.23 L1027.85 2076.33 L1029.65 2065.88 L1031.45 2076.63 L1033.25 2078.82 L1035.05 2067.38 L1036.85 2074.54 L1038.66 2068.33 L1040.46 2070.28 L1042.26 2072.28 L1044.06 2068.50 L1045.86 2067.39 L1047.66 2069.13 L1049.46 2070.82 L1051.26 2070.95 L1053.07 2069.21 L1054.87 2070.20 L1056.67 2069.50 L1058.47 2069.69 L1060.27 2067.08 L1062.07 2068.06 L1063.87 2067.62 L1065.67 2067.69 L1067.48 2069.47 L1069.28 2067.62 L1071.08 2067.79 L1072.88 2074.03 L1074.68 2067.35 L1076.48 2070.32 L1078.28 2071.13 L1080.08 2069.84 L1081.89 2072.22 L1083.69 2066.84 L1085.49 2072.14 L1087.29 2062.98 L1089.09 2069.28 L1090.89 2066.15 L1092.69 2067.21 L1094.49 2069.60 L1096.30 2068.48 L1098.10 2067.72 L1099.90 2069.61 L1101.70 2067.88 L1103.50 2065.94 L1105.30 2062.12 L1107.10 2070.26 L1108.90 2068.14 L1110.71 2064.55 L1112.51 2066.88 L1114.31 2074.90 L1116.11 2067.83 L1117.91 2064.10 L1119.71 2067.82 L1121.51 2064.93 L1123.31 2068.09 L1125.12 2067.98 L1126.92 2070.54 L1128.72 2067.29 L1130.52 2065.62 L1132.32 2068.53 L1134.12 2067.09 L1135.92 2066.30 L1137.72 2067.02 L1139.53 2069.69 L1141.33 2070.92 L1143.13 2070.16 L1144.93 2067.09 L1146.73 2066.95 L1148.53 2064.67 L1150.33 2066.46 L1152.13 2068.56 L1153.94 2067.68 L1155.74 2069.12 L1157.54 2063.68 L1159.34 2068.35 L1161.14 2066.51 L1162.94 2069.68 L1164.74 2067.28 L1166.54 2067.34 L1168.35 2070.06 L1170.15 2068.83 L1171.95 2064.63 L1173.75 2068.61 L1175.55 2071.21 L1177.35 2068.45 L1179.15 2070.85 L1180.95 2068.89 L1182.76 2066.19 L1184.56 2066.23 L1186.36 2063.67 L1188.16 2067.59 L1189.96 2067.08 L1191.76 2066.93 L1193.56 2065.50 L1195.36 2065.32 L1197.17 2066.53 L1198.97 2071.14 L1200.77 2070.62 L1202.57 2068.98 L1204.37 2070.33 L1206.17 2070.99 L1207.97 2067.72 L1209.77 2066.92 L1211.58 2067.41 L1213.38 2066.83 L1215.18 2069.22 L1216.98 2067.52 L1218.78 2068.63 L1220.58 2066.38 L1222.38 2069.60 L1224.18 2067.67 L1225.99 2067.07 L1227.79 2065.69 L1229.59 2065.12 L1231.39 2068.53 L1233.19 2067.61 L1234.99 2066.74 L1236.79 2062.66 L1238.59 2066.40 L1240.40 2067.09 L1242.20 2068.48 L1244.00 2066.72 L1245.80 2065.40 L1247.60 2065.05 L1249.40 2066.82 L1251.20 2068.88 L1253.00 2067.83 L1254.81 2068.87 L1256.61 2067.75 L1258.41 2068.35 L1260.21 2068.17 L1262.01 2065.25 L1263.81 2067.92 L1265.61 2067.97 L1267.41 2068.88 L1269.22 2067.51 L1271.02 2065.21 L1272.82 2066.27 L1274.62 2064.13 L1276.42 2066.67 L1278.22 2064.32 L1280.02 2064.91 L1281.82 2068.15 L1283.63 2069.58 L1285.43 2062.43 L1287.23 2068.28 L1289.03 2067.10 L1290.83 2067.55 L1292.63 2065.70 L1294.43 2064.00 L1296.23 2067.82 L1298.04 2066.81 L1299.84 2063.93 L1301.64 2064.54 L1303.44 2065.25 L1305.24 2067.99 L1307.04 2064.98 L1308.84 2063.91 L1310.64 2067.95 L1312.45 2065.48 L1314.25 2070.44 L1316.05 2065.52 L1317.85 2066.86 L1319.65 2069.91 L1321.45 2066.28 L1323.25 2066.48 L1325.05 2068.80 L1326.86 2064.76 L1328.66 2070.22 L1330.46 2065.69 L1332.26 2065.80 L1334.06 2064.37 L1335.86 2068.26 L1337.66 2063.10 L1339.46 2063.47 L1341.27 2065.14 L1343.07 2065.63 L1344.87 2068.07 L1346.67 2069.01 L1348.47 2065.48 L1350.27 2066.64 L1352.07 2068.43 L1353.87 2066.75 L1355.68 2070.23 L1357.48 2068.50 L1359.28 2064.02 L1361.08 2070.18 L1362.88 2066.43 L1364.68 2068.63 L1366.48 2065.18 L1368.28 2067.87 L1370.09 2063.36 L1371.89 2065.55 L1373.69 2067.29 L1375.49 2064.28 L1377.29 2065.11 L1379.09 2062.48 L1380.89 2064.47 L1382.69 2065.48 L1384.50 2066.66 L1386.30 2065.89 L1388.10 2070.02 L1389.90 2066.17 L1391.70 2068.44 L1393.50 2066.23 L1395.30 2065.18 L1397.10 2066.13 L1398.91 2069.36 L1400.71 2066.26 L1402.51 2070.42 L1404.31 2067.35 L1406.11 2068.30 L1407.91 2067.25 L1409.71 2067.43 L1411.51 2063.49 L1413.32 2065.96 L1415.12 2064.59 L1416.92 2066.37 L1418.72 2065.69 L1420.52 2067.62 L1422.32 2067.00 L1424.12 2068.28 L1425.92 2066.39 L1427.73 2066.15 L1429.53 2063.56 L1431.33 2065.41 L1433.13 2067.00 L1434.93 2066.96 L1436.73 2066.94 L1438.53 2065.48 L1440.33 2064.57 L1442.14 2068.60 L1443.94 2067.24 L1445.74 2063.20 L1447.54 2069.06 L1449.34 2065.41 L1451.14 2065.81 L1452.94 2067.16 L1454.74 2067.49 L1456.55 2067.85 L1458.35 2063.38 L1460.15 2066.18 L1461.95 2070.48 L1463.75 2068.73 L1465.55 2064.02 L1467.35 2066.61 L1469.15 2067.67 L1470.96 2067.17 L1472.76 2067.69 L1474.56 2067.67 L1476.36 2067.05 L1478.16 2068.11 L1479.96 2064.55 L1481.76 2067.44 L1483.56 2067.75 L1485.37 2065.04 L1487.17 2068.60 L1488.97 2069.97 L1490.77 2068.12 L1492.57 2067.85 L1494.37 2066.33 L1496.17 2065.96 L1497.97 2067.42 L1499.78 2067.47 L1501.58 2068.26 L1503.38 2063.71 L1505.18 2070.33 L1506.98 2067.45 L1508.78 2067.25 L1510.58 2065.54 L1512.38 2069.95 L1514.19 2071.73 L1515.99 2067.85 L1517.79 2067.84 L1519.59 2068.14 L1521.39 2069.27 L1523.19 2069.23 L1524.99 2069.34 L1526.79 2071.76 L1528.60 2068.08 L1530.40 2065.89 L1532.20 2067.40 L1534.00 2068.48 L1535.80 2066.37 L1537.60 2070.66 L1539.40 2070.24 L1541.20 2065.44 L1543.01 2070.61 L1544.81 2071.25 L1546.61 2067.36 L1548.41 2068.76 L1550.21 2066.36 L1552.01 2071.69 L1553.81 2072.70 L1555.61 2073.04 L1557.42 2069.14 L1559.22 2067.16 L1561.02 2070.06 L1562.82 2069.78 L1564.62 2070.94 L1566.42 2063.91 L1568.22 2067.13 L1570.02 2069.72 L1571.83 2071.27 L1573.63 2065.96 L1575.43 2068.78 L1577.23 2068.44 L1579.03 2067.91 L1580.83 2071.42 L1582.63 2066.25 L1584.43 2064.03 L1586.24 2073.07 L1588.04 2070.39 L1589.84 2069.48 L1591.64 2069.62 L1593.44 2071.97 L1595.24 2078.15 L1597.04 2069.85 L1598.84 2068.27 L1600.65 2077.50 L1602.45 2072.18 L1604.25 2074.17 L1606.05 2071.19 L1607.85 2070.62 L1609.65 2071.38 L1611.45 2073.14 L1613.25 2071.33 L1615.06 2064.13 L1616.86 2073.49 L1618.66 2071.53 L1620.46 2072.45 L1622.26 2070.59 L1624.06 2070.30 L1625.86 2074.11 L1627.66 2073.62 L1629.47 2066.43 L1631.27 2072.66 L1633.07 2071.07 L1634.87 2070.89 L1636.67 2077.22 L1638.47 2068.31 L1640.27 2065.83 L1642.07 2074.03 L1643.88 2075.19 L1645.68 2062.61 L1647.48 2074.94 L1649.28 2079.64 L1651.08 2069.63 L1652.88 2073.77 L1654.68 2080.07 L1656.48 2075.36 L1658.29 2068.57 L1660.09 2075.36 L1661.89 2067.90 L1663.69 2066.11 L1665.49 2080.50 L1667.29 2068.44 L1669.09 2072.23 L1670.89 2070.78 L1672.70 2066.14 L1674.50 2075.56 L1676.30 2077.65 L1678.10 2067.98 L1679.90 2079.13 L1681.70 2077.66 L1683.50 2089.57 L1685.30 2073.37 L1687.11 2084.96 L1688.91 2077.39 L1690.71 2063.62 L1692.51 2067.30 L1694.31 2075.81 L1696.11 2077.60 L1697.91 2068.27 L1699.71 2080.75 L1701.52 2077.84 L1703.32 2068.59 L1705.12 2075.76 L1706.92 2078.27 L1708.72 2070.54 L1710.52 2079.77 L1712.32 2075.21 L1714.12 2077.59 L1715.93 2072.82 L1717.73 2065.64 L1719.53 2078.07 L1721.33 2081.50 L1723.13 2085.98 L1724.93 2071.24 L1726.73 2077.74 L1728.53 2078.82 L1730.34 2072.32 L1732.14 2086.86 L1733.94 2066.45 L1735.74 2073.42 L1737.54 2083.28 L1739.34 2069.71 L1741.14 2079.66 L1742.94 2068.51 L1744.75 2086.58 L1746.55 2075.57 L1748.35 2082.68 L1750.15 2084.34 L1751.95 2077.72 L1753.75 2068.32 L1755.55 2076.17 L1757.35 2098.83 L1759.16 2083.40 L1760.96 2092.96 L1762.76 2087.55 L1764.56 2087.49 L1766.36 2096.86 L1768.16 2079.98 L1769.96 2070.46 L1771.76 2071.80 L1773.57 2071.68 L1775.37 2087.74 L1777.17 2070.64 L1778.97 2067.79 L1780.77 2080.36 L1782.57 2074.34 L1784.37 2079.40 L1786.17 2088.38 L1787.98 2072.98 L1789.78 2070.24 L1791.58 2092.64 L1793.38 2075.90 L1795.18 2050.47 L1796.98 2082.02 L1798.78 2074.54 L1800.58 2087.14 L1802.39 2086.44 L1804.19 2084.18 L1805.99 2084.09 L1807.79 2096.09 L1809.59 2088.89 L1811.39 2071.43 L1813.19 2076.18 L1814.99 2087.93 L1816.80 2090.31 L1818.60 2078.13 L1820.40 2088.29 L1822.20 2077.89 L1824.00 2079.17 L1825.80 2088.53 L1827.60 2077.69 L1829.40 2078.68 L1831.21 2060.22 L1833.01 2069.76 L1834.81 2085.78 L1836.61 2108.78 L1838.41 2071.88 L1840.21 2089.16 L1842.01 2085.04 L1843.81 2059.95 L1845.62 2049.40 L1847.42 2114.26 L1849.22 2096.66 L1851.02 2081.10 L1852.82 2083.52 L1854.62 2088.22 L1856.42 2096.42 L1858.22 2092.90 L1860.03 2085.68 L1861.83 2087.11 L1863.63 2101.78 L1865.43 2077.79 L1867.23 2066.10 L1869.03 2075.56 L1870.83 2091.83" stroke="#00ff00" stroke-width="9.6" stroke-miterlimit="10"/>
<path d="M411.82 908.51 L413.62 786.05 L415.42 671.24 L417.22 594.71 L419.03 541.13 L420.83 487.56 L422.63 456.94 L424.43 433.98 L426.23 407.19 L428.03 380.40 L429.83 361.82 L431.63 326.55 L433.44 332.96 L435.24 306.99 L437.04 313.49 L438.84 291.29 L440.64 300.30 L442.44 314.74 L444.24 341.34 L446.04 369.90 L447.85 407.51 L449.65 449.39 L451.45 492.97 L453.25 535.26 L455.05 574.88 L456.85 611.76 L458.65 644.82 L460.45 673.55 L462.26 698.75 L464.06 721.04 L465.86 740.64 L467.66 757.86 L469.46 773.21 L471.26 787.35 L473.06 800.79 L474.86 813.55 L476.67 825.59 L478.47 837.25 L480.27 849.06 L482.07 861.39 L483.87 874.51 L485.67 888.49 L487.47 902.96 L489.27 917.61 L491.08 932.77 L492.88 948.98 L494.68 966.59 L496.48 985.34 L498.28 1004.26 L500.08 1022.65 L501.88 1040.78 L503.68 1059.61 L505.49 1080.29 L507.29 1103.43 L509.09 1128.57 L510.89 1154.74 L512.69 1181.25 L514.49 1207.72 L516.29 1233.92 L518.09 1260.15 L519.90 1287.59 L521.70 1317.32 L523.50 1349.11 L525.30 1381.76 L527.10 1414.45 L528.90 1446.80 L530.70 1478.43 L532.50 1508.83 L534.31 1537.50 L536.11 1564.11 L537.91 1588.79 L539.71 1611.88 L541.51 1633.58 L543.31 1654.02 L545.11 1673.74 L546.91 1693.54 L548.72 1713.90 L550.52 1734.64 L552.32 1754.90 L554.12 1773.81 L555.92 1791.43 L557.72 1808.62 L559.52 1825.86 L561.32 1842.89 L563.13 1859.22 L564.93 1874.60 L566.73 1889.13 L568.53 1903.14 L570.33 1916.55 L572.13 1928.87 L573.93 1939.76 L575.73 1949.49 L577.54 1958.63 L579.34 1967.30 L581.14 1975.00 L582.94 1981.75 L584.74 1987.98 L586.54 1993.26 L588.34 1998.77 L590.14 2004.80 L591.95 2010.91 L593.75 2016.54 L595.55 2021.39 L597.35 2026.07 L599.15 2030.08 L600.95 2033.68 L602.75 2037.05 L604.55 2040.20 L606.36 2043.09 L608.16 2045.68 L609.96 2047.99 L611.76 2050.02 L613.56 2051.79 L615.36 2053.78 L617.16 2055.59 L618.96 2057.22 L620.77 2058.69 L622.57 2059.97 L624.37 2061.09 L626.17 2062.02 L627.97 2062.78 L629.77 2063.60 L631.57 2064.43" stroke="#0000ff" stroke-width="9.6" stroke-miterlimit="14"/>
<path d="M629.77 2063.60 L631.57 2064.43 L633.37 2065.25 L635.18 2066.07 L636.98 2066.90 L638.78 2067.72 L640.58 2068.29 L642.38 2068.86 L644.18 2069.43 L645.98 2070.00 L647.78 2070.58 L649.59 2071.61 L651.39 2071.18 L653.19 2068.87 L654.99 2069.91 L656.79 2078.03 L658.59 2074.66 L660.39 2074.57 L662.19 2073.22 L664.00 2075.99 L665.80 2073.57 L667.60 2069.94 L669.40 2079.83 L671.20 2072.69 L673.00 2071.88 L674.80 2074.11 L676.60 2077.18 L678.41 2076.22 L680.21 2071.32 L682.01 2074.70 L683.81 2074.34 L685.61 2071.93 L687.41 2073.46 L689.21 2067.94 L691.01 2075.40 L692.82 2069.27 L694.62 2077.27 L696.42 2071.12 L698.22 2068.62 L700.02 2074.05 L701.82 2076.38 L703.62 2067.66 L705.42 2077.52 L707.23 2067.10 L709.03 2069.79 L710.83 2075.37 L712.63 2072.81 L714.43 2083.66 L716.23 2073.21 L718.03 2072.86 L719.83 2078.08 L721.64 2068.98 L723.44 2064.10 L725.24 2069.30 L727.04 2077.92 L728.84 2076.66 L730.64 2071.77 L732.44 2072.17 L734.24 2061.65 L736.05 2049.76 L737.85 2041.53 L739.65 2069.14 L741.45 2041.31 L743.25 2067.29 L745.05 2042.72 L746.85 2068.70 L748.65 2062.65 L750.46 2051.91 L752.26 2036.19 L754.06 2068.87 L755.86 2074.37 L757.66 2035.59 L759.46 2064.36 L761.26 2038.05 L763.06 2076.09 L764.87 2059.50 L766.67 2065.71 L768.47 2052.03 L770.27 2067.34 L772.07 2064.50 L773.87 2069.12 L775.67 2072.35 L777.47 2075.06 L779.28 2064.07 L781.08 2054.55 L782.88 2059.14 L784.68 2050.12 L786.48 2060.92 L788.28 2039.19 L790.08 2059.93 L791.88 2047.25 L793.69 2062.54 L795.49 2053.50 L797.29 2065.03 L799.09 2077.19 L800.89 2068.26 L802.69 2048.83 L804.49 2048.14 L806.29 2067.37 L808.10 2062.42 L809.90 2060.60 L811.70 2057.13 L813.50 2055.89 L815.30 2062.01 L817.10 2044.90 L818.90 2049.03 L820.70 2064.89 L822.51 2060.37 L824.31 2042.80 L826.11 2050.44 L827.91 2057.46 L829.71 2059.61 L831.51 2049.91 L833.31 2055.28 L835.11 2043.46 L836.92 2053.06 L838.72 2042.45 L840.52 2047.85 L842.32 2075.94 L844.12 2051.43 L845.92 2051.79 L847.72 2045.83 L849.52 2046.56 L851.33 2061.81 L853.13 2055.11 L854.93 2068.97 L856.73 2059.55 L858.53 2041.14 L860.33 2056.53 L862.13 2047.22 L863.93 2057.93 L865.74 2047.89 L867.54 2043.25 L869.34 2052.74 L871.14 2047.74 L872.94 2077.74 L874.74 2048.39 L876.54 2043.80 L878.34 2044.32 L880.15 2045.73 L881.95 2061.47 L883.75 2059.46 L885.55 2044.90 L887.35 2044.89 L889.15 2048.77 L890.95 2053.42 L892.75 2057.19 L894.56 2047.49 L896.36 2060.54 L898.16 2048.83 L899.96 2038.35 L901.76 2058.07 L903.56 2054.30 L905.36 2055.17 L907.16 2052.14 L908.97 2051.53 L910.77 2056.00 L912.57 2056.00 L914.37 2059.22 L916.17 2059.82 L917.97 2057.77 L919.77 2048.38 L921.57 2042.75 L923.38 2061.17 L925.18 2054.47 L926.98 2055.50 L928.78 2037.45 L930.58 2049.94 L932.38 2056.86 L934.18 2048.33 L935.98 2049.41 L937.79 2049.61 L939.59 2054.98 L941.39 2059.08 L943.19 2051.05 L944.99 2052.47 L946.79 2050.30 L948.59 2061.77 L950.39 2054.91 L952.20 2051.84 L954.00 2050.01 L955.80 2054.92 L957.60 2054.90 L959.40 2050.64 L961.20 2058.36 L963.00 2049.86 L964.80 2061.71 L966.61 2052.59 L968.41 2059.95 L970.21 2064.54 L972.01 2051.49 L973.81 2041.25 L975.61 2056.35 L977.41 2053.19 L979.21 2047.45 L981.02 2051.37 L982.82 2044.86 L984.62 2043.12 L986.42 2047.83 L988.22 2054.84 L990.02 2051.85 L991.82 2046.47 L993.62 2051.45 L995.43 2039.26 L997.23 2049.74 L999.03 2047.19 L1000.83 2048.08 L1002.63 2047.47 L1004.43 2051.58 L1006.23 2062.51 L1008.03 2056.56 L1009.84 2044.14 L1011.64 2050.14 L1013.44 2049.44 L1015.24 2055.73 L1017.04 2052.89 L1018.84 2056.39 L1020.64 2043.29 L1022.44 2050.91 L1024.25 2046.44 L1026.05 2051.82 L1027.85 2060.30 L1029.65 2052.99 L1031.45 2051.75 L1033.25 2055.19 L1035.05 2042.27 L1036.85 2049.81 L1038.66 2048.44 L1040.46 2043.50 L1042.26 2049.38 L1044.06 2051.88 L1045.86 2050.97 L1047.66 2053.41 L1049.46 2053.02 L1051.26 2060.67 L1053.07 2049.93 L1054.87 2053.36 L1056.67 2051.63 L1058.47 2050.15 L1060.27 2048.73 L1062.07 2053.17 L1063.87 2044.76 L1065.67 2056.96 L1067.48 2049.45 L1069.28 2055.28 L1071.08 2048.53 L1072.88 2059.79 L1074.68 2048.88 L1076.48 2051.20 L1078.28 2053.51 L1080.08 2048.58 L1081.89 2045.35 L1083.69 2043.53 L1085.49 2049.31 L1087.29 2043.10 L1089.09 2047.60 L1090.89 2049.68 L1092.69 2050.93 L1094.49 2052.13 L1096.30 2051.56 L1098.10 2055.20 L1099.90 2057.63 L1101.70 2051.64 L1103.50 2047.65 L1105.30 2050.69 L1107.10 2048.26 L1108.90 2040.82 L1110.71 2052.86 L1112.51 2049.89 L1114.31 2045.77 L1116.11 2051.84 L1117.91 2051.19 L1119.71 2053.87 L1121.51 2050.44 L1123.31 2043.86 L1125.12 2047.30 L1126.92 2050.44 L1128.72 2052.38 L1130.52 2050.45 L1132.32 2053.31 L1134.12 2049.43 L1135.92 2047.36 L1137.72 2051.20 L1139.53 2049.36 L1141.33 2053.64 L1143.13 2046.13 L1144.93 2050.68 L1146.73 2048.70 L1148.53 2049.55 L1150.33 2045.68 L1152.13 2051.12 L1153.94 2046.88 L1155.74 2052.06 L1157.54 2047.36 L1159.34 2043.16 L1161.14 2051.02 L1162.94 2047.79 L1164.74 2048.84 L1166.54 2050.43 L1168.35 2052.48 L1170.15 2050.94 L1171.95 2050.66 L1173.75 2050.03 L1175.55 2051.30 L1177.35 2049.93 L1179.15 2052.81 L1180.95 2050.18 L1182.76 2049.83 L1184.56 2048.02 L1186.36 2048.99 L1188.16 2049.66 L1189.96 2048.36 L1191.76 2048.86 L1193.56 2054.20 L1195.36 2047.17 L1197.17 2050.24 L1198.97 2050.38 L1200.77 2049.16 L1202.57 2051.32 L1204.37 2048.00 L1206.17 2047.44 L1207.97 2050.31 L1209.77 2051.25 L1211.58 2049.93 L1213.38 2052.86 L1215.18 2049.63 L1216.98 2043.69 L1218.78 2054.52 L1220.58 2043.68 L1222.38 2050.45 L1224.18 2051.80 L1225.99 2048.15 L1227.79 2047.97 L1229.59 2049.24 L1231.39 2053.35 L1233.19 2050.64 L1234.99 2053.82 L1236.79 2048.11 L1238.59 2048.00 L1240.40 2050.70 L1242.20 2049.66 L1244.00 2044.20 L1245.80 2049.63 L1247.60 2047.82 L1249.40 2045.44 L1251.20 2049.76 L1253.00 2046.91 L1254.81 2050.36 L1256.61 2048.70 L1258.41 2045.45 L1260.21 2046.18 L1262.01 2048.18 L1263.81 2049.67 L1265.61 2049.18 L1267.41 2049.07 L1269.22 2044.86 L1271.02 2054.20 L1272.82 2045.28 L1274.62 2048.75 L1276.42 2045.77 L1278.22 2053.47 L1280.02 2047.97 L1281.82 2047.45 L1283.63 2049.59 L1285.43 2049.27 L1287.23 2046.94 L1289.03 2047.80 L1290.83 2048.03 L1292.63 2052.92 L1294.43 2048.59 L1296.23 2049.52 L1298.04 2046.10 L1299.84 2049.60 L1301.64 2050.72 L1303.44 2045.84 L1305.24 2049.47 L1307.04 2048.10 L1308.84 2046.02 L1310.64 2047.30 L1312.45 2047.02 L1314.25 2049.07 L1316.05 2047.37 L1317.85 2046.90 L1319.65 2050.60 L1321.45 2049.50 L1323.25 2048.47 L1325.05 2050.45 L1326.86 2045.26 L1328.66 2050.55 L1330.46 2047.69 L1332.26 2046.81 L1334.06 2047.91 L1335.86 2046.87 L1337.66 2050.67 L1339.46 2049.03 L1341.27 2049.72 L1343.07 2051.55 L1344.87 2047.10 L1346.67 2049.60 L1348.47 2048.98 L1350.27 2049.93 L1352.07 2044.25 L1353.87 2053.10 L1355.68 2052.84 L1357.48 2043.51 L1359.28 2047.11 L1361.08 2047.62 L1362.88 2049.04 L1364.68 2050.06 L1366.48 2047.90 L1368.28 2050.02 L1370.09 2048.26 L1371.89 2048.62 L1373.69 2048.25 L1375.49 2049.50 L1377.29 2052.39 L1379.09 2046.48 L1380.89 2049.40 L1382.69 2048.79 L1384.50 2049.20 L1386.30 2047.66 L1388.10 2050.89 L1389.90 2048.59 L1391.70 2048.02 L1393.50 2051.44 L1395.30 2049.97 L1397.10 2046.40 L1398.91 2044.35 L1400.71 2046.98 L1402.51 2044.34 L1404.31 2047.67 L1406.11 2052.11 L1407.91 2048.82 L1409.71 2048.13 L1411.51 2050.42 L1413.32 2050.29 L1415.12 2051.82 L1416.92 2049.39 L1418.72 2049.80 L1420.52 2047.71 L1422.32 2050.47 L1424.12 2050.45 L1425.92 2049.80 L1427.73 2047.68 L1429.53 2048.53 L1431.33 2050.49 L1433.13 2047.84 L1434.93 2046.68 L1436.73 2048.80 L1438.53 2053.74 L1440.33 2048.10 L1442.14 2046.99 L1443.94 2049.23 L1445.74 2050.47 L1447.54 2048.47 L1449.34 2051.84 L1451.14 2049.82 L1452.94 2050.03 L1454.74 2051.73 L1456.55 2051.02 L1458.35 2048.54 L1460.15 2049.37 L1461.95 2047.87 L1463.75 2048.24 L1465.55 2049.08 L1467.35 2048.33 L1469.15 2047.51 L1470.96 2048.22 L1472.76 2054.00 L1474.56 2050.80 L1476.36 2047.82 L1478.16 2051.38 L1479.96 2049.22 L1481.76 2050.78 L1483.56 2048.55 L1485.37 2046.50 L1487.17 2049.88 L1488.97 2052.36 L1490.77 2051.53 L1492.57 2047.97 L1494.37 2049.84 L1496.17 2052.98 L1497.97 2053.03 L1499.78 2050.21 L1501.58 2049.19 L1503.38 2049.50 L1505.18 2051.46 L1506.98 2049.93 L1508.78 2052.78 L1510.58 2050.84 L1512.38 2047.92 L1514.19 2049.71 L1515.99 2053.44 L1517.79 2052.80 L1519.59 2049.58 L1521.39 2048.89 L1523.19 2046.97 L1524.99 2045.48 L1526.79 2051.88 L1528.60 2049.45 L1530.40 2053.62 L1532.20 2045.80 L1534.00 2046.22 L1535.80 2049.32 L1537.60 2050.44 L1539.40 2046.33 L1541.20 2051.42 L1543.01 2050.84 L1544.81 2048.48 L1546.61 2049.67 L1548.41 2052.32 L1550.21 2051.72 L1552.01 2050.63 L1553.81 2044.21 L1555.61 2048.06 L1557.42 2051.78 L1559.22 2050.41 L1561.02 2049.87 L1562.82 2048.12 L1564.62 2049.79 L1566.42 2052.54 L1568.22 2051.07 L1570.02 2048.72 L1571.83 2047.72 L1573.63 2046.43 L1575.43 2049.51 L1577.23 2050.26 L1579.03 2055.34 L1580.83 2049.66 L1582.63 2050.94 L1584.43 2049.67 L1586.24 2048.90 L1588.04 2047.88 L1589.84 2051.82 L1591.64 2048.96 L1593.44 2050.27 L1595.24 2044.28 L1597.04 2045.72 L1598.84 2048.88 L1600.65 2046.76 L1602.45 2049.56 L1604.25 2048.81 L1606.05 2049.03 L1607.85 2046.58 L1609.65 2053.54 L1611.45 2048.07 L1613.25 2046.31 L1615.06 2049.00 L1616.86 2053.05 L1618.66 2052.96 L1620.46 2043.28 L1622.26 2053.10 L1624.06 2048.28 L1625.86 2046.32 L1627.66 2042.97 L1629.47 2045.83 L1631.27 2052.33 L1633.07 2051.51 L1634.87 2049.82 L1636.67 2041.67 L1638.47 2056.27 L1640.27 2051.87 L1642.07 2049.87 L1643.88 2046.85 L1645.68 2047.30 L1647.48 2049.04 L1649.28 2046.56 L1651.08 2046.80 L1652.88 2049.48 L1654.68 2049.76 L1656.48 2054.07 L1658.29 2051.38 L1660.09 2043.43 L1661.89 2042.29 L1663.69 2047.71 L1665.49 2050.67 L1667.29 2049.92 L1669.09 2045.07 L1670.89 2049.06 L1672.70 2053.00 L1674.50 2043.98 L1676.30 2048.78 L1678.10 2050.17 L1679.90 2046.06 L1681.70 2049.23 L1683.50 2049.51 L1685.30 2048.73 L1687.11 2047.28 L1688.91 2038.91 L1690.71 2048.84 L1692.51 2051.84 L1694.31 2045.66 L1696.11 2050.96 L1697.91 2048.75 L1699.71 2047.31 L1701.52 2047.27 L1703.32 2054.08 L1705.12 2048.31 L1706.92 2050.49 L1708.72 2051.26 L1710.52 2053.26 L1712.32 2039.62 L1714.12 2052.60 L1715.93 2045.77 L1717.73 2041.62 L1719.53 2052.50 L1721.33 2048.12 L1723.13 2053.57 L1724.93 2042.87 L1726.73 2047.33 L1728.53 2049.73 L1730.34 2037.87 L1732.14 2046.40 L1733.94 2050.16 L1735.74 2053.23 L1737.54 2059.95 L1739.34 2049.49 L1741.14 2050.15 L1742.94 2048.67 L1744.75 2044.12 L1746.55 2042.09 L1748.35 2044.69 L1750.15 2045.75 L1751.95 2042.66 L1753.75 2045.04 L1755.55 2054.78 L1757.35 2054.01 L1759.16 2046.16 L1760.96 2046.71 L1762.76 2050.29 L1764.56 2045.14 L1766.36 2047.05 L1768.16 2049.15 L1769.96 2047.03 L1771.76 2050.36 L1773.57 2035.99 L1775.37 2051.42 L1777.17 2046.44 L1778.97 2054.94 L1780.77 2045.17 L1782.57 2055.19 L1784.37 2042.15 L1786.17 2063.21 L1787.98 2042.92 L1789.78 2057.55 L1791.58 2032.24 L1793.38 2063.92 L1795.18 2042.21 L1796.98 2063.10 L1798.78 2037.53 L1800.58 2061.57 L1802.39 2035.39 L1804.19 2062.93 L1805.99 2031.28 L1807.79 2064.30 L1809.59 2028.83 L1811.39 2070.48 L1813.19 2036.91 L1814.99 2067.47 L1816.80 2039.01 L1818.60 2064.85 L1820.40 2038.69 L1822.20 2061.52 L1824.00 2035.12 L1825.80 2065.07 L1827.60 2041.30 L1829.40 2066.02 L1831.21 2030.95 L1833.01 2062.96 L1834.81 2029.27 L1836.61 2068.31 L1838.41 2038.18 L1840.21 2059.41 L1842.01 2032.83 L1843.81 2071.93 L1845.62 2040.09 L1847.42 2069.62 L1849.22 2036.16 L1851.02 2068.38 L1852.82 2029.51 L1854.62 2063.38 L1856.42 2034.32 L1858.22 2061.78 L1860.03 2037.40 L1861.83 2070.82 L1863.63 2033.67 L1865.43 2069.37 L1867.23 2040.51 L1869.03 2061.51 L1870.83 2030.36" stroke="#0000ff" stroke-width="9.6" stroke-miterlimit="10"/>
</g>
<rect x="425.50" y="219.50" width="8.50" height="1964.50" fill="#000"/>
<rect x="425.50" y="2176.50" width="1822.50" height="7.50" fill="#000"/>
<rect x="434.00" y="2095.00" width="39.00" height="7.40" fill="#000"/>
<rect x="434.00" y="1891.60" width="20.00" height="6.60" fill="#000"/>
<rect x="434.00" y="1687.40" width="39.00" height="7.40" fill="#000"/>
<rect x="434.00" y="1484.00" width="20.00" height="6.60" fill="#000"/>
<rect x="434.00" y="1279.80" width="39.00" height="7.40" fill="#000"/>
<rect x="434.00" y="1076.40" width="20.00" height="6.60" fill="#000"/>
<rect x="434.00" y="872.20" width="39.00" height="7.40" fill="#000"/>
<rect x="434.00" y="668.80" width="20.00" height="6.60" fill="#000"/>
<rect x="434.00" y="464.60" width="39.00" height="7.40" fill="#000"/>
<rect x="434.00" y="261.20" width="20.00" height="6.60" fill="#000"/>
<rect x="511.90" y="2146.00" width="7.80" height="31.00" fill="#000"/>
<rect x="728.15" y="2161.00" width="7.60" height="16.00" fill="#000"/>
<rect x="944.20" y="2146.00" width="7.80" height="31.00" fill="#000"/>
<rect x="1160.45" y="2161.00" width="7.60" height="16.00" fill="#000"/>
<rect x="1376.50" y="2146.00" width="7.80" height="31.00" fill="#000"/>
<rect x="1592.75" y="2161.00" width="7.60" height="16.00" fill="#000"/>
<rect x="1808.80" y="2146.00" width="7.80" height="31.00" fill="#000"/>
<rect x="2025.05" y="2161.00" width="7.60" height="16.00" fill="#000"/>
<rect x="2240.20" y="2146.00" width="7.80" height="31.00" fill="#000"/>
<text transform="translate(241.81,489.89) scale(1.1683,1)" font-size="93.50" font-family="Liberation Sans, sans-serif" stroke="#000" stroke-width="0.94" >2.0</text>
<text transform="translate(248.54,897.97) scale(1.1013,1)" font-size="94.88" font-family="Liberation Sans, sans-serif" stroke="#000" stroke-width="0.95" >1.5</text>
<text transform="translate(248.56,1306.09) scale(1.1149,1)" font-size="93.50" font-family="Liberation Sans, sans-serif" stroke="#000" stroke-width="0.94" >1.0</text>
<text transform="translate(243.06,1714.19) scale(1.1609,1)" font-size="93.50" font-family="Liberation Sans, sans-serif" stroke="#000" stroke-width="0.94" >0.5</text>
<text transform="translate(243.07,2122.29) scale(1.1583,1)" font-size="93.50" font-family="Liberation Sans, sans-serif" stroke="#000" stroke-width="0.94" >0.0</text>
<text transform="translate(426.00,2277.68) scale(1.1564,1)" font-size="94.63" font-family="Liberation Sans, sans-serif" stroke="#000" stroke-width="0.95" >200</text>
<text transform="translate(859.10,2277.68) scale(1.1492,1)" font-size="94.63" font-family="Liberation Sans, sans-serif" stroke="#000" stroke-width="0.95" >400</text>
<text transform="translate(1289.44,2277.68) scale(1.1574,1)" font-size="94.63" font-family="Liberation Sans, sans-serif" stroke="#000" stroke-width="0.95" >600</text>
<text transform="translate(1722.46,2277.68) scale(1.1527,1)" font-size="94.63" font-family="Liberation Sans, sans-serif" stroke="#000" stroke-width="0.95" >800</text>
<text transform="translate(2132.02,2277.68) scale(1.1066,1)" font-size="94.63" font-family="Liberation Sans, sans-serif" stroke="#000" stroke-width="0.95" >1000</text>
<text transform="translate(1244.11,2428.28) scale(1.1766,1)" font-size="105.41" font-family="Liberation Sans, sans-serif" stroke="#000" stroke-width="1.05" x="-48.41 0">λ(nm)</text>
<rect x="634.90" y="169.00" width="229.10" height="10.00" fill="#000000"/>
<text transform="translate(882.38,197.72) scale(1.1072,1)" font-size="79.38" font-family="Liberation Sans, sans-serif" stroke="#000" stroke-width="0.79" >GCS</text>
<rect x="634.90" y="253.70" width="229.10" height="9.20" fill="#ff0000"/>
<text transform="translate(882.63,281.92) scale(1.0374,1)" font-size="79.94" font-family="Liberation Sans, sans-serif" stroke="#000" stroke-width="0.80" >GCSN1</text>
<rect x="634.90" y="337.10" width="229.10" height="8.60" fill="#00ff00"/>
<text transform="translate(882.43,364.62) scale(1.0861,1)" font-size="79.94" font-family="Liberation Sans, sans-serif" stroke="#000" stroke-width="0.80" >GCSN2</text>
<rect x="634.90" y="420.90" width="229.10" height="8.60" fill="#0000ff"/>
<text transform="translate(882.43,448.52) scale(1.0928,1)" font-size="79.52" font-family="Liberation Sans, sans-serif" stroke="#000" stroke-width="0.80" >GCSN3</text>
<text transform="translate(165.00,0) rotate(-90) scale(0.8300,1)" font-size="132.50" font-family="Liberation Sans, sans-serif" stroke="#000" stroke-width="1.59" x="-2033.99 -1957.34 -1890.31 -1835.20 -1770.00 -1729.26 -1665.51 -1600.37 -1536.35 -1478.76 -1397.59 -1380.02 -1341.77 -1275.83 -1244.75 -1179.93 -1141.26">Absorbance (a.u.)</text>
<clipPath id="insetclip"><rect x="853.48" y="538" width="1217.48" height="1003"/></clipPath>
<g id="inset-curves" clip-path="url(#insetclip)" fill="none" stroke-linejoin="round" stroke-linecap="butt" transform="scale(1.150,1)">
<path d="M853.48 590.55 L864.54 582.06 L875.60 574.80 L886.66 576.76 L897.72 577.16 L908.78 577.42 L919.84 589.94 L930.90 606.37 L933.67 611.40 L936.43 616.63 L939.20 622.34 L941.97 628.01 L944.73 633.38 L947.50 638.53 L950.26 643.59 L953.03 648.66 L955.79 653.72 L958.56 658.73 L961.32 663.62 L964.09 668.38 L966.85 673.01 L969.62 677.51 L972.38 681.98 L975.15 686.29 L977.91 690.44 L980.68 694.41 L983.44 698.20 L986.21 701.80 L988.97 705.22 L991.74 708.47 L994.50 711.54 L997.27 714.46 L1000.03 717.23 L1002.80 719.87 L1005.57 722.39 L1008.33 724.78 L1011.10 727.05 L1013.86 729.21 L1016.63 731.23 L1019.39 733.13 L1022.16 734.89 L1024.92 736.51 L1027.69 737.98 L1030.45 739.32 L1033.22 740.51 L1035.98 741.57 L1038.75 742.51 L1041.51 743.34 L1044.28 744.05 L1047.04 744.67 L1049.81 745.20 L1052.57 745.64 L1055.34 746.01 L1058.10 746.31 L1060.87 746.54 L1063.63 746.72 L1066.40 746.85 L1069.17 746.93 L1071.93 746.97 L1074.70 746.97 L1077.46 746.94 L1080.23 746.86 L1082.99 746.75 L1085.76 746.61 L1088.52 746.44 L1091.29 746.23 L1094.05 746.00 L1096.82 745.75 L1099.58 745.49 L1102.35 745.22 L1105.11 744.94 L1107.88 744.67 L1110.64 744.41 L1113.41 744.17 L1116.17 743.94 L1118.94 743.74 L1121.70 743.55 L1124.47 743.39 L1127.23 743.26 L1130.00 743.14 L1132.77 743.05 L1135.53 742.97 L1138.30 742.92 L1141.06 742.88 L1143.83 742.86 L1146.59 742.86 L1149.36 742.89 L1152.12 742.94 L1154.89 743.02 L1157.65 743.14 L1160.42 743.30 L1163.18 743.51 L1165.95 743.77 L1168.71 744.09 L1171.48 744.47 L1174.24 744.91 L1177.01 745.42 L1179.77 746.00 L1182.54 746.65 L1185.30 747.36 L1188.07 748.15 L1190.83 749.01 L1193.60 749.95 L1196.37 750.95 L1199.13 752.04 L1201.90 753.19 L1204.66 754.41 L1207.43 755.68 L1210.19 757.00 L1212.96 758.37 L1215.72 759.76 L1218.49 761.19 L1221.25 762.64 L1224.02 764.11 L1226.78 765.62 L1229.55 767.16 L1232.31 768.74 L1235.08 770.38 L1237.84 772.09 L1240.61 773.86 L1243.37 775.73 L1246.14 777.67 L1248.90 779.71 L1251.67 781.83 L1254.43 784.03 L1257.20 786.32 L1259.97 788.67 L1262.73 791.09 L1265.50 793.56 L1268.26 796.06 L1271.03 798.59 L1273.79 801.15 L1276.56 803.71 L1279.32 806.28 L1282.09 808.85 L1284.85 811.43 L1287.62 814.02 L1290.38 816.63 L1293.15 819.25 L1295.91 821.91 L1298.68 824.59 L1301.44 827.30 L1304.21 830.03 L1306.97 832.80 L1309.74 835.58 L1312.50 838.39 L1315.27 841.23 L1318.03 844.10 L1320.80 847.01 L1323.57 849.97 L1326.33 853.01 L1329.10 856.12 L1331.86 859.32 L1334.63 862.62 L1337.39 866.02 L1340.16 869.53 L1342.92 873.15 L1345.69 876.85 L1348.45 880.65 L1351.22 884.51 L1353.98 888.42 L1356.75 892.36 L1359.51 896.33 L1362.28 900.31 L1365.04 904.29 L1367.81 908.27 L1370.57 912.27 L1373.34 916.28 L1376.10 920.31 L1378.87 924.39 L1381.63 928.51 L1384.40 932.68 L1387.17 936.91 L1389.93 941.19 L1392.70 945.52 L1395.46 949.89 L1398.23 954.30 L1400.99 958.74 L1403.76 963.20 L1406.52 967.67 L1409.29 972.17 L1412.05 976.68 L1414.82 981.21 L1417.58 985.76 L1420.35 990.34 L1423.11 994.95 L1425.88 999.59 L1428.64 1004.27 L1431.41 1009.00 L1434.17 1013.76 L1436.94 1018.56 L1439.70 1023.41 L1442.47 1028.31 L1445.23 1033.24 L1448.00 1038.22 L1450.77 1043.23 L1453.53 1048.27 L1456.30 1053.34 L1459.06 1058.43 L1461.83 1063.54 L1464.59 1068.66 L1467.36 1073.79 L1470.12 1078.92 L1472.89 1084.05 L1475.65 1089.19 L1478.42 1094.31 L1481.18 1099.43 L1483.95 1104.52 L1486.71 1109.58 L1489.48 1114.60 L1492.24 1119.57 L1495.01 1124.47 L1497.77 1129.29 L1500.54 1134.03 L1503.30 1138.66 L1506.07 1143.20 L1508.83 1147.64 L1511.60 1151.97 L1514.37 1156.21 L1517.13 1160.35 L1519.90 1164.41 L1522.66 1168.39 L1525.43 1172.29 L1528.19 1176.13 L1530.96 1179.90 L1533.72 1183.61 L1536.49 1187.26 L1539.25 1190.85 L1542.02 1194.38 L1544.78 1197.87 L1547.55 1201.30 L1550.31 1204.70 L1553.08 1208.06 L1555.84 1211.39 L1558.61 1214.71 L1561.37 1218.02 L1564.14 1221.33 L1566.90 1224.65 L1569.67 1227.99 L1572.43 1231.36 L1575.20 1234.75 L1577.97 1238.17 L1580.73 1241.62 L1583.50 1245.11 L1586.26 1248.62 L1589.03 1252.16 L1591.79 1255.71 L1594.56 1259.27 L1597.32 1262.84 L1600.09 1266.40 L1602.85 1269.94 L1605.62 1273.46 L1608.38 1276.95 L1611.15 1280.38 L1613.91 1283.77 L1616.68 1287.10 L1619.44 1290.37 L1622.21 1293.58 L1624.97 1296.72 L1627.74 1299.81 L1630.50 1302.84 L1633.27 1305.81 L1636.03 1308.74 L1638.80 1311.62 L1641.57 1314.47 L1644.33 1317.28 L1647.10 1320.05 L1649.86 1322.80 L1652.63 1325.52 L1655.39 1328.21 L1658.16 1330.89 L1660.92 1333.53 L1663.69 1336.15 L1666.45 1338.74 L1669.22 1341.30 L1671.98 1343.83 L1674.75 1346.31 L1677.51 1348.76 L1680.28 1351.16 L1683.04 1353.51 L1685.81 1355.82 L1688.57 1358.07 L1691.34 1360.28 L1694.10 1362.44 L1696.87 1364.55 L1699.63 1366.62 L1702.40 1368.65 L1705.17 1370.63 L1707.93 1372.58 L1710.70 1374.50 L1713.46 1376.39 L1716.23 1378.25 L1718.99 1380.08 L1721.76 1381.88 L1724.52 1383.65 L1727.29 1385.40 L1730.05 1387.11 L1732.82 1388.80 L1735.58 1390.46 L1738.35 1392.10 L1741.11 1393.72 L1743.88 1395.33 L1746.64 1396.93 L1749.41 1398.53 L1752.17 1400.13 L1754.94 1401.74 L1757.70 1403.34 L1760.47 1404.93 L1763.23 1406.48 L1766.00 1407.98 L1768.77 1409.41 L1771.53 1410.76 L1774.30 1412.01 L1777.06 1413.18 L1779.83 1414.26 L1782.59 1415.28 L1785.36 1416.25 L1788.12 1417.21 L1790.89 1418.17 L1793.65 1419.14 L1796.42 1420.14 L1799.18 1421.16 L1801.95 1422.20 L1804.71 1423.25 L1807.48 1424.22 L1810.24 1425.20 L1813.01 1426.17 L1815.77 1427.15 L1818.54 1428.14 L1821.30 1429.15 L1824.07 1430.20 L1826.83 1431.29 L1829.60 1432.41 L1832.37 1433.57 L1835.13 1434.76 L1837.90 1435.95 L1840.66 1437.14 L1843.43 1438.30 L1846.19 1439.41 L1848.96 1440.47 L1851.72 1441.46 L1854.49 1442.38 L1857.25 1443.23 L1860.02 1444.01 L1862.78 1444.74 L1865.55 1445.41 L1868.31 1446.04 L1871.08 1446.64 L1873.84 1447.29 L1876.61 1447.91 L1879.37 1448.52 L1882.14 1449.10 L1884.90 1449.67 L1887.67 1450.23 L1890.43 1450.76 L1893.20 1451.28 L1895.97 1451.78 L1898.73 1452.27 L1901.50 1452.74 L1904.26 1453.19 L1907.03 1453.62 L1909.79 1454.05 L1912.56 1454.45 L1915.32 1454.84 L1918.09 1455.22 L1920.85 1455.59 L1923.62 1455.94 L1926.38 1456.28 L1929.15 1456.60 L1931.91 1456.92 L1934.68 1457.23 L1937.44 1457.52 L1940.21 1457.81 L1942.97 1458.09 L1945.74 1458.36 L1948.50 1458.62 L1951.27 1458.87 L1954.03 1459.12 L1956.80 1459.36 L1959.57 1459.60 L1962.33 1459.83 L1965.10 1460.06 L1967.86 1460.28 L1970.63 1460.50 L1973.39 1460.72 L1976.16 1460.94 L1978.92 1461.15 L1981.69 1461.37 L1984.45 1461.63 L1987.22 1461.90 L1989.98 1462.16 L1992.75 1462.42 L1995.51 1462.68 L1998.28 1462.94 L2001.04 1463.20 L2003.81 1463.46 L2006.57 1463.71 L2009.34 1463.97 L2012.10 1464.22 L2014.87 1464.47 L2017.63 1464.72 L2020.40 1464.97 L2023.17 1465.21 L2025.93 1465.46 L2028.70 1465.70 L2031.46 1465.94 L2034.23 1466.17 L2036.99 1466.40 L2039.76 1466.63 L2042.52 1466.86 L2045.29 1467.08 L2048.05 1467.30 L2050.82 1467.51 L2053.58 1467.71 L2056.35 1467.90 L2059.11 1468.09 L2061.88 1468.27 L2064.64 1468.43 L2067.41 1468.58 L2070.17 1468.72" stroke="#000000" stroke-width="6.3"/>
<path d="M853.48 604.34 L864.54 595.19 L875.60 588.63 L886.66 579.41 L897.72 578.08 L908.78 579.37 L919.84 583.26 L930.90 592.49 L933.67 595.84 L936.43 599.83 L939.20 604.28 L941.97 608.56 L944.73 612.56 L947.50 616.60 L950.26 620.98 L953.03 625.87 L955.79 631.47 L958.56 637.23 L961.32 642.57 L964.09 647.66 L966.85 652.60 L969.62 657.38 L972.38 662.17 L975.15 666.82 L977.91 671.31 L980.68 675.62 L983.44 679.75 L986.21 683.72 L988.97 687.54 L991.74 691.24 L994.50 694.82 L997.27 698.33 L1000.03 701.77 L1002.80 705.18 L1005.57 708.55 L1008.33 711.90 L1011.10 715.22 L1013.86 718.50 L1016.63 721.73 L1019.39 724.90 L1022.16 727.99 L1024.92 730.99 L1027.69 733.88 L1030.45 736.66 L1033.22 739.31 L1035.98 741.82 L1038.75 744.21 L1041.51 746.45 L1044.28 748.56 L1047.04 750.55 L1049.81 752.41 L1052.57 754.15 L1055.34 755.79 L1058.10 757.34 L1060.87 758.81 L1063.63 760.20 L1066.40 761.54 L1069.17 762.82 L1071.93 764.06 L1074.70 765.27 L1077.46 766.44 L1080.23 767.59 L1082.99 768.70 L1085.76 769.80 L1088.52 770.86 L1091.29 771.91 L1094.05 772.94 L1096.82 773.94 L1099.58 774.94 L1102.35 775.92 L1105.11 776.89 L1107.88 777.85 L1110.64 778.81 L1113.41 779.76 L1116.17 780.71 L1118.94 781.66 L1121.70 782.61 L1124.47 783.56 L1127.23 784.51 L1130.00 785.46 L1132.77 786.42 L1135.53 787.38 L1138.30 788.36 L1141.06 789.34 L1143.83 790.35 L1146.59 791.37 L1149.36 792.41 L1152.12 793.49 L1154.89 794.59 L1157.65 795.72 L1160.42 796.89 L1163.18 798.10 L1165.95 799.33 L1168.71 800.61 L1171.48 801.92 L1174.24 803.27 L1177.01 804.65 L1179.77 806.07 L1182.54 807.54 L1185.30 809.04 L1188.07 810.59 L1190.83 812.19 L1193.60 813.83 L1196.37 815.51 L1199.13 817.23 L1201.90 818.98 L1204.66 820.75 L1207.43 822.54 L1210.19 824.33 L1212.96 826.12 L1215.72 827.90 L1218.49 829.69 L1221.25 831.47 L1224.02 833.27 L1226.78 835.09 L1229.55 836.95 L1232.31 838.85 L1235.08 840.82 L1237.84 842.85 L1240.61 844.95 L1243.37 847.13 L1246.14 849.37 L1248.90 851.68 L1251.67 854.04 L1254.43 856.44 L1257.20 858.88 L1259.97 861.35 L1262.73 863.84 L1265.50 866.35 L1268.26 868.87 L1271.03 871.39 L1273.79 873.93 L1276.56 876.47 L1279.32 879.03 L1282.09 881.61 L1284.85 884.22 L1287.62 886.86 L1290.38 889.54 L1293.15 892.26 L1295.91 895.03 L1298.68 897.83 L1301.44 900.66 L1304.21 903.52 L1306.97 906.39 L1309.74 909.27 L1312.50 912.16 L1315.27 915.05 L1318.03 917.96 L1320.80 920.90 L1323.57 923.86 L1326.33 926.88 L1329.10 929.95 L1331.86 933.08 L1334.63 936.28 L1337.39 939.55 L1340.16 942.88 L1342.92 946.27 L1345.69 949.72 L1348.45 953.21 L1351.22 956.74 L1353.98 960.29 L1356.75 963.86 L1359.51 967.43 L1362.28 971.01 L1365.04 974.59 L1367.81 978.17 L1370.57 981.75 L1373.34 985.33 L1376.10 988.94 L1378.87 992.56 L1381.63 996.22 L1384.40 999.92 L1387.17 1003.67 L1389.93 1007.47 L1392.70 1011.33 L1395.46 1015.24 L1398.23 1019.20 L1400.99 1023.20 L1403.76 1027.25 L1406.52 1031.33 L1409.29 1035.43 L1412.05 1039.55 L1414.82 1043.69 L1417.58 1047.85 L1420.35 1052.02 L1423.11 1056.20 L1425.88 1060.41 L1428.64 1064.63 L1431.41 1068.88 L1434.17 1073.15 L1436.94 1077.45 L1439.70 1081.78 L1442.47 1086.14 L1445.23 1090.54 L1448.00 1094.96 L1450.77 1099.40 L1453.53 1103.86 L1456.30 1108.34 L1459.06 1112.84 L1461.83 1117.33 L1464.59 1121.82 L1467.36 1126.30 L1470.12 1130.77 L1472.89 1135.21 L1475.65 1139.62 L1478.42 1143.99 L1481.18 1148.32 L1483.95 1152.61 L1486.71 1156.83 L1489.48 1160.99 L1492.24 1165.09 L1495.01 1169.12 L1497.77 1173.08 L1500.54 1176.96 L1503.30 1180.78 L1506.07 1184.52 L1508.83 1188.20 L1511.60 1191.81 L1514.37 1195.37 L1517.13 1198.86 L1519.90 1202.30 L1522.66 1205.69 L1525.43 1209.02 L1528.19 1212.31 L1530.96 1215.54 L1533.72 1218.71 L1536.49 1221.83 L1539.25 1224.89 L1542.02 1227.89 L1544.78 1230.83 L1547.55 1233.70 L1550.31 1236.52 L1553.08 1239.29 L1555.84 1242.02 L1558.61 1244.71 L1561.37 1247.37 L1564.14 1250.01 L1566.90 1252.65 L1569.67 1255.28 L1572.43 1257.93 L1575.20 1260.58 L1577.97 1263.25 L1580.73 1265.94 L1583.50 1268.64 L1586.26 1271.37 L1589.03 1274.12 L1591.79 1276.88 L1594.56 1279.66 L1597.32 1282.45 L1600.09 1285.26 L1602.85 1288.06 L1605.62 1290.88 L1608.38 1293.68 L1611.15 1296.49 L1613.91 1299.28 L1616.68 1302.05 L1619.44 1304.81 L1622.21 1307.54 L1624.97 1310.25 L1627.74 1312.94 L1630.50 1315.59 L1633.27 1318.21 L1636.03 1320.79 L1638.80 1323.35 L1641.57 1325.87 L1644.33 1328.36 L1647.10 1330.81 L1649.86 1333.24 L1652.63 1335.64 L1655.39 1338.01 L1658.16 1340.35 L1660.92 1342.67 L1663.69 1344.97 L1666.45 1347.24 L1669.22 1349.48 L1671.98 1351.70 L1674.75 1353.88 L1677.51 1356.04 L1680.28 1358.16 L1683.04 1360.25 L1685.81 1362.31 L1688.57 1364.33 L1691.34 1366.31 L1694.10 1368.25 L1696.87 1370.15 L1699.63 1372.02 L1702.40 1373.84 L1705.17 1375.63 L1707.93 1377.38 L1710.70 1379.10 L1713.46 1380.78 L1716.23 1382.42 L1718.99 1384.04 L1721.76 1385.63 L1724.52 1387.20 L1727.29 1388.74 L1730.05 1390.27 L1732.82 1391.78 L1735.58 1393.28 L1738.35 1394.78 L1741.11 1396.27 L1743.88 1397.77 L1746.64 1399.26 L1749.41 1400.76 L1752.17 1402.26 L1754.94 1403.75 L1757.70 1405.23 L1760.47 1406.69 L1763.23 1408.12 L1766.00 1409.50 L1768.77 1410.84 L1771.53 1412.13 L1774.30 1413.37 L1777.06 1414.55 L1779.83 1415.69 L1782.59 1416.79 L1785.36 1417.87 L1788.12 1418.92 L1790.89 1419.97 L1793.65 1421.01 L1796.42 1422.05 L1799.18 1423.09 L1801.95 1424.12 L1804.71 1425.14 L1807.48 1426.07 L1810.24 1426.98 L1813.01 1427.88 L1815.77 1428.78 L1818.54 1429.66 L1821.30 1430.53 L1824.07 1431.40 L1826.83 1432.25 L1829.60 1433.08 L1832.37 1433.89 L1835.13 1434.68 L1837.90 1435.45 L1840.66 1436.19 L1843.43 1436.93 L1846.19 1437.66 L1848.96 1438.41 L1851.72 1439.17 L1854.49 1439.95 L1857.25 1440.76 L1860.02 1441.59 L1862.78 1442.44 L1865.55 1443.28 L1868.31 1444.10 L1871.08 1444.91 L1873.84 1445.76 L1876.61 1446.57 L1879.37 1447.34 L1882.14 1448.06 L1884.90 1448.73 L1887.67 1449.36 L1890.43 1449.95 L1893.20 1450.50 L1895.97 1451.03 L1898.73 1451.53 L1901.50 1452.00 L1904.26 1452.45 L1907.03 1452.89 L1909.79 1453.31 L1912.56 1453.71 L1915.32 1454.10 L1918.09 1454.48 L1920.85 1454.84 L1923.62 1455.19 L1926.38 1455.53 L1929.15 1455.85 L1931.91 1456.16 L1934.68 1456.46 L1937.44 1456.75 L1940.21 1457.03 L1942.97 1457.30 L1945.74 1457.56 L1948.50 1457.81 L1951.27 1458.05 L1954.03 1458.28 L1956.80 1458.51 L1959.57 1458.72 L1962.33 1458.93 L1965.10 1459.14 L1967.86 1459.33 L1970.63 1459.53 L1973.39 1459.71 L1976.16 1459.89 L1978.92 1460.07 L1981.69 1460.24 L1984.45 1460.46 L1987.22 1460.68 L1989.98 1460.90 L1992.75 1461.11 L1995.51 1461.32 L1998.28 1461.53 L2001.04 1461.74 L2003.81 1461.94 L2006.57 1462.14 L2009.34 1462.33 L2012.10 1462.53 L2014.87 1462.72 L2017.63 1462.90 L2020.40 1463.09 L2023.17 1463.27 L2025.93 1463.45 L2028.70 1463.62 L2031.46 1463.79 L2034.23 1463.96 L2036.99 1464.12 L2039.76 1464.28 L2042.52 1464.43 L2045.29 1464.58 L2048.05 1464.72 L2050.82 1464.86 L2053.58 1464.99 L2056.35 1465.12 L2059.11 1465.24 L2061.88 1465.36 L2064.64 1465.47 L2067.41 1465.57 L2070.17 1465.67" stroke="#ff0000" stroke-width="6.3"/>
<path d="M853.48 622.72 L864.54 606.33 L875.60 603.90 L886.66 601.14 L897.72 588.58 L908.78 584.64 L919.84 586.58 L930.90 593.19 L933.67 596.11 L936.43 599.51 L939.20 603.58 L941.97 607.79 L944.73 612.13 L947.50 616.91 L950.26 622.45 L953.03 628.94 L955.79 636.80 L958.56 645.62 L961.32 654.49 L964.09 663.00 L966.85 671.33 L969.62 679.80 L972.38 688.35 L975.15 697.00 L977.91 705.70 L980.68 714.40 L983.44 723.06 L986.21 731.64 L988.97 740.12 L991.74 748.48 L994.50 756.72 L997.27 764.81 L1000.03 772.78 L1002.80 780.61 L1005.57 788.32 L1008.33 795.90 L1011.10 803.37 L1013.86 810.71 L1016.63 817.92 L1019.39 824.99 L1022.16 831.90 L1024.92 838.65 L1027.69 845.23 L1030.45 851.62 L1033.22 857.82 L1035.98 863.83 L1038.75 869.65 L1041.51 875.29 L1044.28 880.73 L1047.04 885.99 L1049.81 891.07 L1052.57 895.96 L1055.34 900.67 L1058.10 905.20 L1060.87 909.56 L1063.63 913.76 L1066.40 917.80 L1069.17 921.69 L1071.93 925.45 L1074.70 929.08 L1077.46 932.60 L1080.23 936.01 L1082.99 939.33 L1085.76 942.56 L1088.52 945.71 L1091.29 948.80 L1094.05 951.81 L1096.82 954.76 L1099.58 957.66 L1102.35 960.48 L1105.11 963.25 L1107.88 965.94 L1110.64 968.56 L1113.41 971.11 L1116.17 973.58 L1118.94 975.96 L1121.70 978.27 L1124.47 980.49 L1127.23 982.63 L1130.00 984.70 L1132.77 986.69 L1135.53 988.62 L1138.30 990.49 L1141.06 992.30 L1143.83 994.07 L1146.59 995.79 L1149.36 997.48 L1152.12 999.13 L1154.89 1000.76 L1157.65 1002.37 L1160.42 1003.95 L1163.18 1005.52 L1165.95 1007.07 L1168.71 1008.61 L1171.48 1010.14 L1174.24 1011.65 L1177.01 1013.15 L1179.77 1014.64 L1182.54 1016.13 L1185.30 1017.60 L1188.07 1019.08 L1190.83 1020.56 L1193.60 1022.04 L1196.37 1023.54 L1199.13 1025.07 L1201.90 1026.61 L1204.66 1028.19 L1207.43 1029.79 L1210.19 1031.42 L1212.96 1033.07 L1215.72 1034.73 L1218.49 1036.41 L1221.25 1038.09 L1224.02 1039.77 L1226.78 1041.45 L1229.55 1043.12 L1232.31 1044.79 L1235.08 1046.46 L1237.84 1048.12 L1240.61 1049.79 L1243.37 1051.46 L1246.14 1053.14 L1248.90 1054.82 L1251.67 1056.50 L1254.43 1058.18 L1257.20 1059.85 L1259.97 1061.52 L1262.73 1063.17 L1265.50 1064.82 L1268.26 1066.46 L1271.03 1068.10 L1273.79 1069.73 L1276.56 1071.37 L1279.32 1073.02 L1282.09 1074.69 L1284.85 1076.37 L1287.62 1078.09 L1290.38 1079.83 L1293.15 1081.60 L1295.91 1083.39 L1298.68 1085.20 L1301.44 1087.02 L1304.21 1088.85 L1306.97 1090.69 L1309.74 1092.53 L1312.50 1094.37 L1315.27 1096.22 L1318.03 1098.09 L1320.80 1099.98 L1323.57 1101.91 L1326.33 1103.89 L1329.10 1105.92 L1331.86 1108.00 L1334.63 1110.16 L1337.39 1112.37 L1340.16 1114.65 L1342.92 1116.98 L1345.69 1119.35 L1348.45 1121.77 L1351.22 1124.22 L1353.98 1126.70 L1356.75 1129.20 L1359.51 1131.71 L1362.28 1134.24 L1365.04 1136.77 L1367.81 1139.31 L1370.57 1141.85 L1373.34 1144.40 L1376.10 1146.94 L1378.87 1149.49 L1381.63 1152.03 L1384.40 1154.57 L1387.17 1157.12 L1389.93 1159.66 L1392.70 1162.20 L1395.46 1164.75 L1398.23 1167.30 L1400.99 1169.86 L1403.76 1172.43 L1406.52 1175.02 L1409.29 1177.62 L1412.05 1180.24 L1414.82 1182.88 L1417.58 1185.56 L1420.35 1188.26 L1423.11 1190.99 L1425.88 1193.76 L1428.64 1196.56 L1431.41 1199.38 L1434.17 1202.24 L1436.94 1205.12 L1439.70 1208.03 L1442.47 1210.97 L1445.23 1213.92 L1448.00 1216.88 L1450.77 1219.86 L1453.53 1222.85 L1456.30 1225.85 L1459.06 1228.86 L1461.83 1231.86 L1464.59 1234.86 L1467.36 1237.85 L1470.12 1240.84 L1472.89 1243.81 L1475.65 1246.77 L1478.42 1249.72 L1481.18 1252.64 L1483.95 1255.54 L1486.71 1258.41 L1489.48 1261.25 L1492.24 1264.07 L1495.01 1266.85 L1497.77 1269.60 L1500.54 1272.32 L1503.30 1275.00 L1506.07 1277.65 L1508.83 1280.26 L1511.60 1282.83 L1514.37 1285.37 L1517.13 1287.86 L1519.90 1290.32 L1522.66 1292.74 L1525.43 1295.13 L1528.19 1297.47 L1530.96 1299.77 L1533.72 1302.04 L1536.49 1304.26 L1539.25 1306.45 L1542.02 1308.60 L1544.78 1310.71 L1547.55 1312.79 L1550.31 1314.83 L1553.08 1316.84 L1555.84 1318.83 L1558.61 1320.80 L1561.37 1322.74 L1564.14 1324.68 L1566.90 1326.60 L1569.67 1328.52 L1572.43 1330.45 L1575.20 1332.38 L1577.97 1334.32 L1580.73 1336.27 L1583.50 1338.25 L1586.26 1340.25 L1589.03 1342.27 L1591.79 1344.31 L1594.56 1346.37 L1597.32 1348.44 L1600.09 1350.52 L1602.85 1352.58 L1605.62 1354.63 L1608.38 1356.66 L1611.15 1358.65 L1613.91 1360.60 L1616.68 1362.50 L1619.44 1364.36 L1622.21 1366.17 L1624.97 1367.94 L1627.74 1369.68 L1630.50 1371.40 L1633.27 1373.09 L1636.03 1374.78 L1638.80 1376.46 L1641.57 1378.13 L1644.33 1379.81 L1647.10 1381.48 L1649.86 1383.14 L1652.63 1384.80 L1655.39 1386.44 L1658.16 1388.06 L1660.92 1389.65 L1663.69 1391.22 L1666.45 1392.76 L1669.22 1394.27 L1671.98 1395.75 L1674.75 1397.20 L1677.51 1398.63 L1680.28 1400.02 L1683.04 1401.40 L1685.81 1402.75 L1688.57 1404.08 L1691.34 1405.39 L1694.10 1406.67 L1696.87 1407.94 L1699.63 1409.19 L1702.40 1410.42 L1705.17 1411.63 L1707.93 1412.82 L1710.70 1414.00 L1713.46 1415.15 L1716.23 1416.28 L1718.99 1417.40 L1721.76 1418.49 L1724.52 1419.57 L1727.29 1420.63 L1730.05 1421.67 L1732.82 1422.70 L1735.58 1423.71 L1738.35 1424.71 L1741.11 1425.71 L1743.88 1426.70 L1746.64 1427.68 L1749.41 1428.66 L1752.17 1429.63 L1754.94 1430.59 L1757.70 1431.55 L1760.47 1432.49 L1763.23 1433.41 L1766.00 1434.31 L1768.77 1435.18 L1771.53 1436.03 L1774.30 1436.84 L1777.06 1437.63 L1779.83 1438.38 L1782.59 1439.11 L1785.36 1439.82 L1788.12 1440.51 L1790.89 1441.19 L1793.65 1441.85 L1796.42 1442.52 L1799.18 1443.17 L1801.95 1443.83 L1804.71 1444.48 L1807.48 1445.04 L1810.24 1445.60 L1813.01 1446.16 L1815.77 1446.71 L1818.54 1447.25 L1821.30 1447.78 L1824.07 1448.29 L1826.83 1448.78 L1829.60 1449.25 L1832.37 1449.69 L1835.13 1450.10 L1837.90 1450.49 L1840.66 1450.87 L1843.43 1451.24 L1846.19 1451.61 L1848.96 1451.99 L1851.72 1452.39 L1854.49 1452.81 L1857.25 1453.24 L1860.02 1453.70 L1862.78 1454.17 L1865.55 1454.65 L1868.31 1455.13 L1871.08 1455.59 L1873.84 1456.13 L1876.61 1456.65 L1879.37 1457.14 L1882.14 1457.60 L1884.90 1458.04 L1887.67 1458.45 L1890.43 1458.83 L1893.20 1459.20 L1895.97 1459.54 L1898.73 1459.86 L1901.50 1460.16 L1904.26 1460.44 L1907.03 1460.71 L1909.79 1460.96 L1912.56 1461.20 L1915.32 1461.43 L1918.09 1461.65 L1920.85 1461.85 L1923.62 1462.05 L1926.38 1462.24 L1929.15 1462.43 L1931.91 1462.61 L1934.68 1462.79 L1937.44 1462.97 L1940.21 1463.14 L1942.97 1463.31 L1945.74 1463.48 L1948.50 1463.64 L1951.27 1463.81 L1954.03 1463.96 L1956.80 1464.12 L1959.57 1464.27 L1962.33 1464.41 L1965.10 1464.56 L1967.86 1464.69 L1970.63 1464.82 L1973.39 1464.94 L1976.16 1465.06 L1978.92 1465.18 L1981.69 1465.29 L1984.45 1465.45 L1987.22 1465.61 L1989.98 1465.76 L1992.75 1465.91 L1995.51 1466.06 L1998.28 1466.20 L2001.04 1466.34 L2003.81 1466.48 L2006.57 1466.61 L2009.34 1466.74 L2012.10 1466.87 L2014.87 1467.00 L2017.63 1467.12 L2020.40 1467.25 L2023.17 1467.37 L2025.93 1467.48 L2028.70 1467.60 L2031.46 1467.71 L2034.23 1467.81 L2036.99 1467.92 L2039.76 1468.02 L2042.52 1468.12 L2045.29 1468.22 L2048.05 1468.31 L2050.82 1468.40 L2053.58 1468.49 L2056.35 1468.58 L2059.11 1468.66 L2061.88 1468.74 L2064.64 1468.82 L2067.41 1468.89 L2070.17 1468.97" stroke="#00ff00" stroke-width="6.3"/>
<path d="M853.48 608.28 L864.54 590.55 L875.60 593.77 L886.66 580.72 L897.72 583.99 L908.78 572.83 L919.84 577.35 L930.90 584.62 L933.67 587.36 L936.43 590.69 L939.20 594.42 L941.97 597.98 L944.73 601.33 L947.50 604.73 L950.26 608.36 L953.03 612.34 L955.79 616.72 L958.56 621.39 L961.32 626.25 L964.09 631.24 L966.85 636.39 L969.62 641.69 L972.38 646.94 L975.15 652.29 L977.91 657.74 L980.68 663.22 L983.44 668.72 L986.21 674.20 L988.97 679.63 L991.74 684.99 L994.50 690.27 L997.27 695.46 L1000.03 700.56 L1002.80 705.58 L1005.57 710.51 L1008.33 715.37 L1011.10 720.15 L1013.86 724.84 L1016.63 729.43 L1019.39 733.91 L1022.16 738.27 L1024.92 742.50 L1027.69 746.58 L1030.45 750.53 L1033.22 754.33 L1035.98 758.00 L1038.75 761.54 L1041.51 764.97 L1044.28 768.28 L1047.04 771.49 L1049.81 774.61 L1052.57 777.63 L1055.34 780.56 L1058.10 783.41 L1060.87 786.16 L1063.63 788.83 L1066.40 791.42 L1069.17 793.92 L1071.93 796.34 L1074.70 798.69 L1077.46 800.96 L1080.23 803.15 L1082.99 805.28 L1085.76 807.35 L1088.52 809.35 L1091.29 811.30 L1094.05 813.20 L1096.82 815.06 L1099.58 816.88 L1102.35 818.67 L1105.11 820.43 L1107.88 822.17 L1110.64 823.88 L1113.41 825.58 L1116.17 827.26 L1118.94 828.92 L1121.70 830.56 L1124.47 832.17 L1127.23 833.77 L1130.00 835.33 L1132.77 836.88 L1135.53 838.40 L1138.30 839.90 L1141.06 841.39 L1143.83 842.86 L1146.59 844.32 L1149.36 845.79 L1152.12 847.25 L1154.89 848.72 L1157.65 850.19 L1160.42 851.68 L1163.18 853.18 L1165.95 854.70 L1168.71 856.24 L1171.48 857.80 L1174.24 859.38 L1177.01 860.99 L1179.77 862.62 L1182.54 864.28 L1185.30 865.98 L1188.07 867.70 L1190.83 869.44 L1193.60 871.21 L1196.37 873.00 L1199.13 874.81 L1201.90 876.63 L1204.66 878.45 L1207.43 880.28 L1210.19 882.11 L1212.96 883.94 L1215.72 885.79 L1218.49 887.64 L1221.25 889.51 L1224.02 891.40 L1226.78 893.31 L1229.55 895.26 L1232.31 897.24 L1235.08 899.25 L1237.84 901.31 L1240.61 903.41 L1243.37 905.55 L1246.14 907.74 L1248.90 909.98 L1251.67 912.26 L1254.43 914.58 L1257.20 916.93 L1259.97 919.30 L1262.73 921.68 L1265.50 924.07 L1268.26 926.46 L1271.03 928.84 L1273.79 931.19 L1276.56 933.53 L1279.32 935.85 L1282.09 938.15 L1284.85 940.44 L1287.62 942.71 L1290.38 944.99 L1293.15 947.26 L1295.91 949.55 L1298.68 951.86 L1301.44 954.20 L1304.21 956.58 L1306.97 959.02 L1309.74 961.51 L1312.50 964.07 L1315.27 966.70 L1318.03 969.41 L1320.80 972.20 L1323.57 975.07 L1326.33 978.02 L1329.10 981.04 L1331.86 984.12 L1334.63 987.26 L1337.39 990.45 L1340.16 993.68 L1342.92 996.93 L1345.69 1000.21 L1348.45 1003.52 L1351.22 1006.83 L1353.98 1010.15 L1356.75 1013.49 L1359.51 1016.82 L1362.28 1020.16 L1365.04 1023.49 L1367.81 1026.82 L1370.57 1030.15 L1373.34 1033.46 L1376.10 1036.77 L1378.87 1040.06 L1381.63 1043.35 L1384.40 1046.63 L1387.17 1049.91 L1389.93 1053.19 L1392.70 1056.49 L1395.46 1059.81 L1398.23 1063.18 L1400.99 1066.59 L1403.76 1070.06 L1406.52 1073.60 L1409.29 1077.22 L1412.05 1080.92 L1414.82 1084.70 L1417.58 1088.55 L1420.35 1092.47 L1423.11 1096.44 L1425.88 1100.47 L1428.64 1104.53 L1431.41 1108.61 L1434.17 1112.71 L1436.94 1116.82 L1439.70 1120.94 L1442.47 1125.05 L1445.23 1129.17 L1448.00 1133.27 L1450.77 1137.37 L1453.53 1141.46 L1456.30 1145.53 L1459.06 1149.59 L1461.83 1153.63 L1464.59 1157.65 L1467.36 1161.64 L1470.12 1165.60 L1472.89 1169.53 L1475.65 1173.42 L1478.42 1177.26 L1481.18 1181.06 L1483.95 1184.81 L1486.71 1188.50 L1489.48 1192.14 L1492.24 1195.71 L1495.01 1199.22 L1497.77 1202.66 L1500.54 1206.04 L1503.30 1209.35 L1506.07 1212.60 L1508.83 1215.78 L1511.60 1218.91 L1514.37 1221.98 L1517.13 1225.00 L1519.90 1227.97 L1522.66 1230.89 L1525.43 1233.77 L1528.19 1236.61 L1530.96 1239.40 L1533.72 1242.15 L1536.49 1244.85 L1539.25 1247.51 L1542.02 1250.14 L1544.78 1252.72 L1547.55 1255.27 L1550.31 1257.79 L1553.08 1260.28 L1555.84 1262.76 L1558.61 1265.23 L1561.37 1267.70 L1564.14 1270.17 L1566.90 1272.65 L1569.67 1275.14 L1572.43 1277.65 L1575.20 1280.18 L1577.97 1282.73 L1580.73 1285.30 L1583.50 1287.88 L1586.26 1290.48 L1589.03 1293.09 L1591.79 1295.70 L1594.56 1298.31 L1597.32 1300.90 L1600.09 1303.47 L1602.85 1306.00 L1605.62 1308.49 L1608.38 1310.94 L1611.15 1313.34 L1613.91 1315.69 L1616.68 1318.00 L1619.44 1320.26 L1622.21 1322.48 L1624.97 1324.68 L1627.74 1326.85 L1630.50 1329.02 L1633.27 1331.18 L1636.03 1333.34 L1638.80 1335.50 L1641.57 1337.66 L1644.33 1339.83 L1647.10 1342.00 L1649.86 1344.16 L1652.63 1346.32 L1655.39 1348.47 L1658.16 1350.60 L1660.92 1352.72 L1663.69 1354.81 L1666.45 1356.88 L1669.22 1358.92 L1671.98 1360.93 L1674.75 1362.91 L1677.51 1364.85 L1680.28 1366.77 L1683.04 1368.66 L1685.81 1370.52 L1688.57 1372.35 L1691.34 1374.17 L1694.10 1375.96 L1696.87 1377.74 L1699.63 1379.51 L1702.40 1381.26 L1705.17 1383.00 L1707.93 1384.72 L1710.70 1386.42 L1713.46 1388.10 L1716.23 1389.75 L1718.99 1391.36 L1721.76 1392.93 L1724.52 1394.46 L1727.29 1395.94 L1730.05 1397.37 L1732.82 1398.76 L1735.58 1400.11 L1738.35 1401.41 L1741.11 1402.68 L1743.88 1403.91 L1746.64 1405.12 L1749.41 1406.30 L1752.17 1407.47 L1754.94 1408.62 L1757.70 1409.77 L1760.47 1410.90 L1763.23 1412.02 L1766.00 1413.12 L1768.77 1414.20 L1771.53 1415.25 L1774.30 1416.27 L1777.06 1417.26 L1779.83 1418.21 L1782.59 1419.13 L1785.36 1420.01 L1788.12 1420.86 L1790.89 1421.70 L1793.65 1422.52 L1796.42 1423.32 L1799.18 1424.11 L1801.95 1424.88 L1804.71 1425.65 L1807.48 1426.32 L1810.24 1426.98 L1813.01 1427.64 L1815.77 1428.30 L1818.54 1428.97 L1821.30 1429.65 L1824.07 1430.35 L1826.83 1431.07 L1829.60 1431.81 L1832.37 1432.56 L1835.13 1433.33 L1837.90 1434.10 L1840.66 1434.88 L1843.43 1435.65 L1846.19 1436.42 L1848.96 1437.17 L1851.72 1437.91 L1854.49 1438.63 L1857.25 1439.33 L1860.02 1440.01 L1862.78 1440.65 L1865.55 1441.28 L1868.31 1441.87 L1871.08 1442.44 L1873.84 1443.07 L1876.61 1443.67 L1879.37 1444.24 L1882.14 1444.79 L1884.90 1445.32 L1887.67 1445.83 L1890.43 1446.33 L1893.20 1446.81 L1895.97 1447.28 L1898.73 1447.73 L1901.50 1448.18 L1904.26 1448.62 L1907.03 1449.05 L1909.79 1449.48 L1912.56 1449.90 L1915.32 1450.31 L1918.09 1450.72 L1920.85 1451.12 L1923.62 1451.51 L1926.38 1451.90 L1929.15 1452.27 L1931.91 1452.64 L1934.68 1453.00 L1937.44 1453.35 L1940.21 1453.69 L1942.97 1454.02 L1945.74 1454.34 L1948.50 1454.65 L1951.27 1454.96 L1954.03 1455.25 L1956.80 1455.53 L1959.57 1455.81 L1962.33 1456.08 L1965.10 1456.34 L1967.86 1456.59 L1970.63 1456.83 L1973.39 1457.06 L1976.16 1457.29 L1978.92 1457.51 L1981.69 1457.72 L1984.45 1457.98 L1987.22 1458.23 L1989.98 1458.48 L1992.75 1458.72 L1995.51 1458.96 L1998.28 1459.19 L2001.04 1459.41 L2003.81 1459.63 L2006.57 1459.84 L2009.34 1460.05 L2012.10 1460.25 L2014.87 1460.45 L2017.63 1460.64 L2020.40 1460.83 L2023.17 1461.01 L2025.93 1461.19 L2028.70 1461.36 L2031.46 1461.52 L2034.23 1461.68 L2036.99 1461.83 L2039.76 1461.98 L2042.52 1462.12 L2045.29 1462.26 L2048.05 1462.39 L2050.82 1462.52 L2053.58 1462.64 L2056.35 1462.76 L2059.11 1462.86 L2061.88 1462.97 L2064.64 1463.07 L2067.41 1463.16 L2070.17 1463.24" stroke="#0000ff" stroke-width="6.3"/>
</g>
<rect x="981.00" y="537.60" width="1401.00" height="1.20" fill="#000"/>
<rect x="2381.00" y="537.60" width="1.20" height="1003.40" fill="#000"/>
<rect x="979.20" y="535.50" width="5.40" height="1008.80" fill="#000"/>
<rect x="979.20" y="1538.30" width="1404.80" height="6.00" fill="#000"/>
<rect x="984.00" y="1519.78" width="12.30" height="5.00" fill="#000"/>
<rect x="984.00" y="1478.60" width="24.00" height="5.40" fill="#000"/>
<rect x="984.00" y="1437.82" width="12.30" height="5.00" fill="#000"/>
<rect x="984.00" y="1396.65" width="24.00" height="5.40" fill="#000"/>
<rect x="984.00" y="1355.88" width="12.30" height="5.00" fill="#000"/>
<rect x="984.00" y="1314.70" width="24.00" height="5.40" fill="#000"/>
<rect x="984.00" y="1273.92" width="12.30" height="5.00" fill="#000"/>
<rect x="984.00" y="1232.75" width="24.00" height="5.40" fill="#000"/>
<rect x="984.00" y="1191.97" width="12.30" height="5.00" fill="#000"/>
<rect x="984.00" y="1150.80" width="24.00" height="5.40" fill="#000"/>
<rect x="984.00" y="1110.03" width="12.30" height="5.00" fill="#000"/>
<rect x="984.00" y="1068.85" width="24.00" height="5.40" fill="#000"/>
<rect x="984.00" y="1028.07" width="12.30" height="5.00" fill="#000"/>
<rect x="984.00" y="986.90" width="24.00" height="5.40" fill="#000"/>
<rect x="984.00" y="946.12" width="12.30" height="5.00" fill="#000"/>
<rect x="984.00" y="904.95" width="24.00" height="5.40" fill="#000"/>
<rect x="984.00" y="864.17" width="12.30" height="5.00" fill="#000"/>
<rect x="984.00" y="823.00" width="24.00" height="5.40" fill="#000"/>
<rect x="984.00" y="782.22" width="12.30" height="5.00" fill="#000"/>
<rect x="984.00" y="741.05" width="24.00" height="5.40" fill="#000"/>
<rect x="984.00" y="700.27" width="12.30" height="5.00" fill="#000"/>
<rect x="984.00" y="659.10" width="24.00" height="5.40" fill="#000"/>
<rect x="984.00" y="618.32" width="12.30" height="5.00" fill="#000"/>
<rect x="984.00" y="577.15" width="24.00" height="5.40" fill="#000"/>
<rect x="984.00" y="536.38" width="12.30" height="5.00" fill="#000"/>
<rect x="1042.50" y="1529.00" width="5.20" height="10.00" fill="#000"/>
<rect x="1106.00" y="1519.00" width="5.40" height="20.00" fill="#000"/>
<rect x="1169.70" y="1529.00" width="5.20" height="10.00" fill="#000"/>
<rect x="1233.20" y="1519.00" width="5.40" height="20.00" fill="#000"/>
<rect x="1296.90" y="1529.00" width="5.20" height="10.00" fill="#000"/>
<rect x="1360.40" y="1519.00" width="5.40" height="20.00" fill="#000"/>
<rect x="1424.10" y="1529.00" width="5.20" height="10.00" fill="#000"/>
<rect x="1487.60" y="1519.00" width="5.40" height="20.00" fill="#000"/>
<rect x="1551.30" y="1529.00" width="5.20" height="10.00" fill="#000"/>
<rect x="1614.80" y="1519.00" width="5.40" height="20.00" fill="#000"/>
<rect x="1678.50" y="1529.00" width="5.20" height="10.00" fill="#000"/>
<rect x="1742.00" y="1519.00" width="5.40" height="20.00" fill="#000"/>
<rect x="1805.70" y="1529.00" width="5.20" height="10.00" fill="#000"/>
<rect x="1869.20" y="1519.00" width="5.40" height="20.00" fill="#000"/>
<rect x="1932.90" y="1529.00" width="5.20" height="10.00" fill="#000"/>
<rect x="1996.40" y="1519.00" width="5.40" height="20.00" fill="#000"/>
<rect x="2060.10" y="1529.00" width="5.20" height="10.00" fill="#000"/>
<rect x="2123.60" y="1519.00" width="5.40" height="20.00" fill="#000"/>
<rect x="2187.30" y="1529.00" width="5.20" height="10.00" fill="#000"/>
<rect x="2250.80" y="1519.00" width="5.40" height="20.00" fill="#000"/>
<rect x="2314.50" y="1529.00" width="5.20" height="10.00" fill="#000"/>
<rect x="2378.00" y="1519.00" width="5.40" height="20.00" fill="#000"/>
<text transform="translate(876.88,1494.36) scale(1.0683,1)" font-size="55.65" font-family="Liberation Sans, sans-serif" stroke="#000" stroke-width="0.56" >0.0</text>
<text transform="translate(876.86,1412.41) scale(1.0775,1)" font-size="55.65" font-family="Liberation Sans, sans-serif" stroke="#000" stroke-width="0.56" >0.2</text>
<text transform="translate(876.89,1330.46) scale(1.0604,1)" font-size="55.65" font-family="Liberation Sans, sans-serif" stroke="#000" stroke-width="0.56" >0.4</text>
<text transform="translate(876.87,1248.51) scale(1.0723,1)" font-size="55.65" font-family="Liberation Sans, sans-serif" stroke="#000" stroke-width="0.56" >0.6</text>
<text transform="translate(876.87,1166.56) scale(1.0719,1)" font-size="55.65" font-family="Liberation Sans, sans-serif" stroke="#000" stroke-width="0.56" >0.8</text>
<text transform="translate(879.20,1084.61) scale(1.0374,1)" font-size="55.65" font-family="Liberation Sans, sans-serif" stroke="#000" stroke-width="0.56" >1.0</text>
<text transform="translate(879.16,1003.20) scale(1.0322,1)" font-size="56.43" font-family="Liberation Sans, sans-serif" stroke="#000" stroke-width="0.56" >1.2</text>
<text transform="translate(879.24,921.25) scale(1.0004,1)" font-size="57.27" font-family="Liberation Sans, sans-serif" stroke="#000" stroke-width="0.57" >1.4</text>
<text transform="translate(879.19,838.76) scale(1.0414,1)" font-size="55.65" font-family="Liberation Sans, sans-serif" stroke="#000" stroke-width="0.56" >1.6</text>
<text transform="translate(879.19,756.81) scale(1.0410,1)" font-size="55.65" font-family="Liberation Sans, sans-serif" stroke="#000" stroke-width="0.56" >1.8</text>
<text transform="translate(876.18,674.86) scale(1.0775,1)" font-size="55.65" font-family="Liberation Sans, sans-serif" stroke="#000" stroke-width="0.56" >2.0</text>
<text transform="translate(876.16,593.45) scale(1.0719,1)" font-size="56.43" font-family="Liberation Sans, sans-serif" stroke="#000" stroke-width="0.56" >2.2</text>
<text transform="translate(932.37,1603.66) scale(1.0945,1)" font-size="55.08" font-family="Liberation Sans, sans-serif" stroke="#000" stroke-width="0.55" >200</text>
<text transform="translate(1059.57,1603.66) scale(1.0945,1)" font-size="55.08" font-family="Liberation Sans, sans-serif" stroke="#000" stroke-width="0.55" >210</text>
<text transform="translate(1186.77,1603.66) scale(1.0945,1)" font-size="55.08" font-family="Liberation Sans, sans-serif" stroke="#000" stroke-width="0.55" >220</text>
<text transform="translate(1313.97,1603.66) scale(1.0945,1)" font-size="55.08" font-family="Liberation Sans, sans-serif" stroke="#000" stroke-width="0.55" >230</text>
<text transform="translate(1441.17,1603.66) scale(1.0945,1)" font-size="55.08" font-family="Liberation Sans, sans-serif" stroke="#000" stroke-width="0.55" >240</text>
<text transform="translate(1568.37,1603.66) scale(1.0945,1)" font-size="55.08" font-family="Liberation Sans, sans-serif" stroke="#000" stroke-width="0.55" >250</text>
<text transform="translate(1695.57,1603.66) scale(1.0945,1)" font-size="55.08" font-family="Liberation Sans, sans-serif" stroke="#000" stroke-width="0.55" >260</text>
<text transform="translate(1822.77,1603.66) scale(1.0945,1)" font-size="55.08" font-family="Liberation Sans, sans-serif" stroke="#000" stroke-width="0.55" >270</text>
<text transform="translate(1949.97,1603.66) scale(1.0945,1)" font-size="55.08" font-family="Liberation Sans, sans-serif" stroke="#000" stroke-width="0.55" >280</text>
<text transform="translate(2077.17,1603.66) scale(1.0945,1)" font-size="55.08" font-family="Liberation Sans, sans-serif" stroke="#000" stroke-width="0.55" >290</text>
<text transform="translate(2204.74,1603.66) scale(1.0945,1)" font-size="55.08" font-family="Liberation Sans, sans-serif" stroke="#000" stroke-width="0.55" >300</text>
<text transform="translate(2331.94,1603.66) scale(1.0945,1)" font-size="55.08" font-family="Liberation Sans, sans-serif" stroke="#000" stroke-width="0.55" >310</text>
<text transform="translate(1610.25,1722.64) scale(1.0706,1)" font-size="89.63" font-family="Liberation Sans, sans-serif" stroke="#000" stroke-width="0.90" x="-40.08 0">λ(nm)</text>
<text transform="translate(819.80,0) rotate(-90) scale(0.8400,1)" font-size="105.50" font-family="Liberation Sans, sans-serif" stroke="#000" stroke-width="1.27" x="-1690.68 -1624.78 -1570.32 -1524.55 -1467.96 -1435.49 -1381.62 -1327.84 -1272.70 -1225.32 -1160.71 -1143.09 -1110.32 -1058.09 -1029.83 -977.37 -948.00">Absorbance (a.u.)</text>
<rect x="1841" y="606.6" width="526.3" height="367.4" fill="#fff" stroke="#000" stroke-width="3.6"/>
<rect x="1933.00" y="672.75" width="177.80" height="6.50" fill="#000000"/>
<text transform="translate(2126.13,696.21) scale(0.9837,1)" font-size="70.20" font-family="Liberation Sans, sans-serif" stroke="#000" stroke-width="0.70" >GCS</text>
<rect x="1889.60" y="745.10" width="178.50" height="5.60" fill="#ff0000"/>
<text transform="translate(2083.97,768.11) scale(0.9430,1)" font-size="70.20" font-family="Liberation Sans, sans-serif" stroke="#000" stroke-width="0.70" >GCSN1</text>
<rect x="1889.60" y="816.60" width="178.50" height="5.60" fill="#00ff00"/>
<text transform="translate(2083.86,839.61) scale(0.9741,1)" font-size="70.20" font-family="Liberation Sans, sans-serif" stroke="#000" stroke-width="0.70" >GCSN2</text>
<rect x="1889.60" y="889.00" width="178.50" height="6.20" fill="#0000ff"/>
<text transform="translate(2083.86,912.31) scale(0.9752,1)" font-size="70.20" font-family="Liberation Sans, sans-serif" stroke="#000" stroke-width="0.70" >GCSN3</text>
<line x1="1939.5" y1="1405.9" x2="1956.4" y2="1355.5" stroke="#000" stroke-width="2.7"/>
<polygon points="1962.1,1338.4 1961.2,1359.2 1950.3,1355.6" fill="#000"/>
<line x1="2021.7" y1="1411.2" x2="2025.6" y2="1385.7" stroke="#000" stroke-width="2.7"/>
<polygon points="2028.3,1367.9 2030.9,1388.5 2019.7,1386.8" fill="#000"/>
<line x1="2049.3" y1="1420.9" x2="2056.8" y2="1402.8" stroke="#000" stroke-width="2.7"/>
<polygon points="2063.7,1386.2 2061.3,1406.9 2050.8,1402.5" fill="#000"/>
<line x1="2078.2" y1="1427.7" x2="2086.9" y2="1405.1" stroke="#000" stroke-width="2.7"/>
<polygon points="2093.4,1388.3 2091.5,1409.0 2080.9,1404.9" fill="#000"/>
<text transform="translate(1926.59,1326.41) scale(1.0487,1)" font-size="39.47" font-family="Liberation Sans, sans-serif" stroke="#000" stroke-width="0.39" x="-18.00 0">λcut</text>
<text transform="translate(2001.27,1360.00) scale(1.0103,1)" font-size="40.69" font-family="Liberation Sans, sans-serif" stroke="#000" stroke-width="0.41" x="-18.56 0">λcut</text>
<text transform="translate(2077.99,1369.20) scale(1.0006,1)" font-size="40.69" font-family="Liberation Sans, sans-serif" stroke="#000" stroke-width="0.41" x="-18.56 0">λcut</text>
<text transform="translate(2121.09,1402.00) scale(1.0284,1)" font-size="40.69" font-family="Liberation Sans, sans-serif" stroke="#000" stroke-width="0.41" x="-18.55 0">λcut</text>
</svg>
</body></html>
